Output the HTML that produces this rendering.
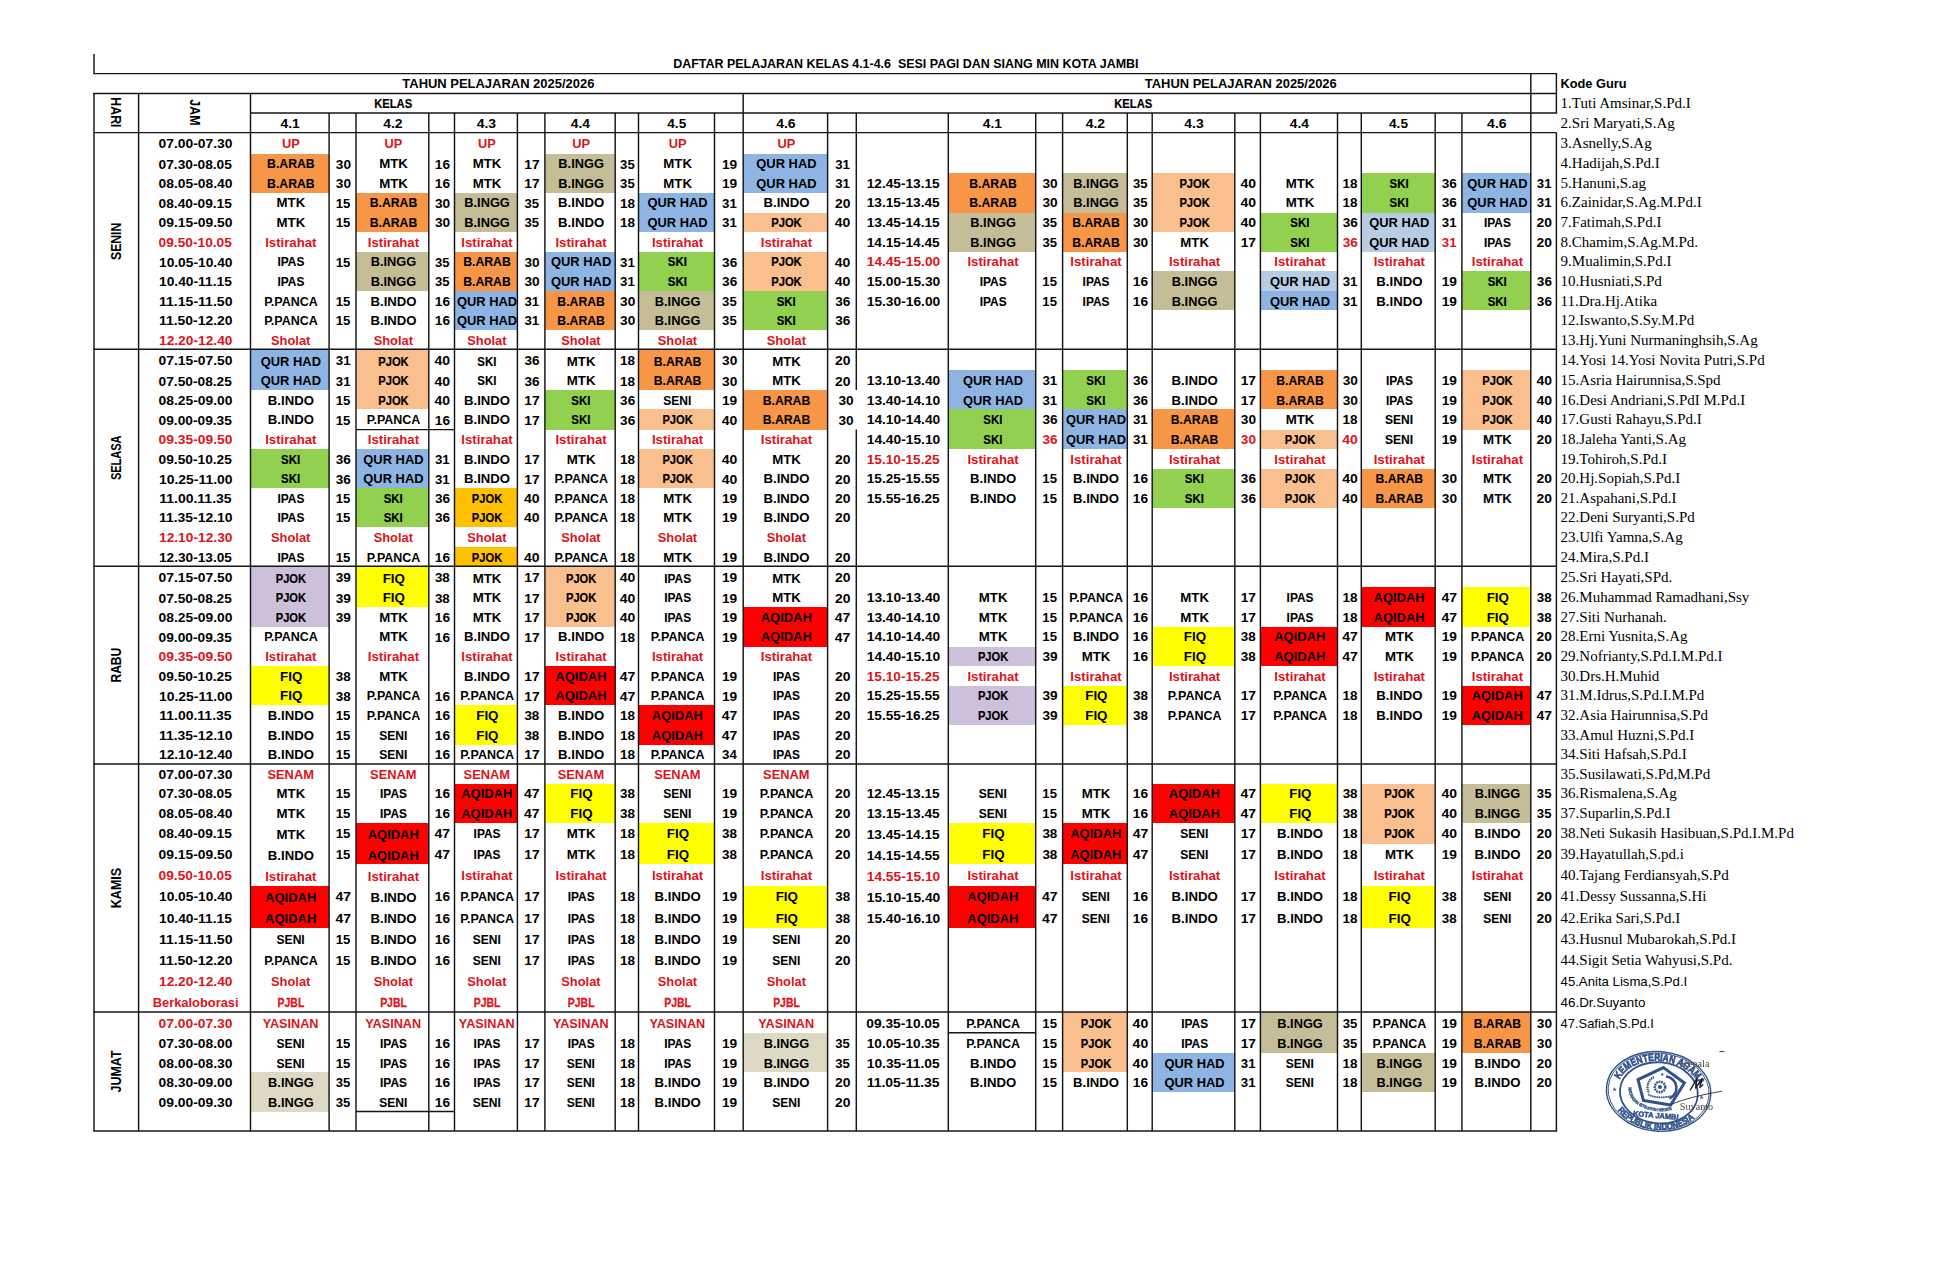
<!DOCTYPE html>
<html><head><meta charset="utf-8"><title>Daftar Pelajaran Kelas 4.1-4.6</title>
<style>
html,body{margin:0;padding:0;background:#fff}
body{width:1949px;height:1270px;overflow:hidden}
svg{display:block}
</style></head><body>
<svg width="1949" height="1270" viewBox="0 0 1949 1270">
<rect width="1949" height="1270" fill="#fff"/>
<g shape-rendering="crispEdges">
<rect x="250.5" y="153.9" width="78.6" height="19.54" fill="#F79646"/>
<rect x="544.9" y="153.9" width="70.3" height="19.54" fill="#C4BD97"/>
<rect x="743.2" y="153.9" width="84.4" height="19.54" fill="#8DB4E2"/>
<rect x="250.5" y="173.44" width="78.6" height="19.55" fill="#F79646"/>
<rect x="544.9" y="173.44" width="70.3" height="19.55" fill="#C4BD97"/>
<rect x="743.2" y="173.44" width="84.4" height="19.55" fill="#8DB4E2"/>
<rect x="948.3" y="173.44" width="87.4" height="19.55" fill="#F79646"/>
<rect x="1062.6" y="173.44" width="64.7" height="19.55" fill="#C4BD97"/>
<rect x="1152.2" y="173.44" width="82.6" height="19.55" fill="#FABF8F"/>
<rect x="1361.3" y="173.44" width="73.9" height="19.55" fill="#92D050"/>
<rect x="1461.9" y="173.44" width="68.9" height="19.55" fill="#8DB4E2"/>
<rect x="356" y="192.99" width="72.8" height="19.55" fill="#F79646"/>
<rect x="454.5" y="192.99" width="62.9" height="19.55" fill="#C4BD97"/>
<rect x="638.5" y="192.99" width="76" height="19.55" fill="#8DB4E2"/>
<rect x="948.3" y="192.99" width="87.4" height="19.55" fill="#F79646"/>
<rect x="1062.6" y="192.99" width="64.7" height="19.55" fill="#C4BD97"/>
<rect x="1152.2" y="192.99" width="82.6" height="19.55" fill="#FABF8F"/>
<rect x="1361.3" y="192.99" width="73.9" height="19.55" fill="#92D050"/>
<rect x="1461.9" y="192.99" width="68.9" height="19.55" fill="#8DB4E2"/>
<rect x="356" y="212.54" width="72.8" height="19.54" fill="#F79646"/>
<rect x="454.5" y="212.54" width="62.9" height="19.54" fill="#C4BD97"/>
<rect x="638.5" y="212.54" width="76" height="19.54" fill="#8DB4E2"/>
<rect x="743.2" y="212.54" width="84.4" height="19.54" fill="#FABF8F"/>
<rect x="948.3" y="212.54" width="87.4" height="19.54" fill="#C4BD97"/>
<rect x="1062.6" y="212.54" width="64.7" height="19.54" fill="#F79646"/>
<rect x="1152.2" y="212.54" width="82.6" height="19.54" fill="#FABF8F"/>
<rect x="1260.4" y="212.54" width="77.1" height="19.54" fill="#92D050"/>
<rect x="1361.3" y="212.54" width="73.9" height="19.54" fill="#B8CCE4"/>
<rect x="948.3" y="232.08" width="87.4" height="19.54" fill="#C4BD97"/>
<rect x="1062.6" y="232.08" width="64.7" height="19.54" fill="#F79646"/>
<rect x="1260.4" y="232.08" width="77.1" height="19.54" fill="#92D050"/>
<rect x="1361.3" y="232.08" width="73.9" height="19.54" fill="#B8CCE4"/>
<rect x="356" y="251.62" width="72.8" height="19.55" fill="#C4BD97"/>
<rect x="454.5" y="251.62" width="62.9" height="19.55" fill="#F79646"/>
<rect x="544.9" y="251.62" width="70.3" height="19.55" fill="#8DB4E2"/>
<rect x="638.5" y="251.62" width="76" height="19.55" fill="#92D050"/>
<rect x="743.2" y="251.62" width="84.4" height="19.55" fill="#FABF8F"/>
<rect x="356" y="271.17" width="72.8" height="19.55" fill="#C4BD97"/>
<rect x="454.5" y="271.17" width="62.9" height="19.55" fill="#F79646"/>
<rect x="544.9" y="271.17" width="70.3" height="19.55" fill="#8DB4E2"/>
<rect x="638.5" y="271.17" width="76" height="19.55" fill="#92D050"/>
<rect x="743.2" y="271.17" width="84.4" height="19.55" fill="#FABF8F"/>
<rect x="1152.2" y="271.17" width="82.6" height="19.55" fill="#C4BD97"/>
<rect x="1260.4" y="271.17" width="77.1" height="19.55" fill="#B8CCE4"/>
<rect x="1461.9" y="271.17" width="68.9" height="19.55" fill="#92D050"/>
<rect x="454.5" y="290.72" width="62.9" height="19.54" fill="#8DB4E2"/>
<rect x="544.9" y="290.72" width="70.3" height="19.54" fill="#F79646"/>
<rect x="638.5" y="290.72" width="76" height="19.54" fill="#C4BD97"/>
<rect x="743.2" y="290.72" width="84.4" height="19.54" fill="#92D050"/>
<rect x="1152.2" y="290.72" width="82.6" height="19.54" fill="#C4BD97"/>
<rect x="1260.4" y="290.72" width="77.1" height="19.54" fill="#8DB4E2"/>
<rect x="1461.9" y="290.72" width="68.9" height="19.54" fill="#92D050"/>
<rect x="454.5" y="310.26" width="62.9" height="19.55" fill="#8DB4E2"/>
<rect x="544.9" y="310.26" width="70.3" height="19.55" fill="#F79646"/>
<rect x="638.5" y="310.26" width="76" height="19.55" fill="#C4BD97"/>
<rect x="743.2" y="310.26" width="84.4" height="19.55" fill="#92D050"/>
<rect x="250.5" y="349.3" width="78.6" height="20.9" fill="#8DB4E2"/>
<rect x="356" y="349.3" width="72.8" height="20.9" fill="#FABF8F"/>
<rect x="638.5" y="349.3" width="76" height="20.9" fill="#F79646"/>
<rect x="250.5" y="370.2" width="78.6" height="19.8" fill="#8DB4E2"/>
<rect x="356" y="370.2" width="72.8" height="19.8" fill="#FABF8F"/>
<rect x="638.5" y="370.2" width="76" height="19.8" fill="#F79646"/>
<rect x="948.3" y="370.2" width="87.4" height="19.8" fill="#8DB4E2"/>
<rect x="1062.6" y="370.2" width="64.7" height="19.8" fill="#92D050"/>
<rect x="1260.4" y="370.2" width="77.1" height="19.8" fill="#F79646"/>
<rect x="1461.9" y="370.2" width="68.9" height="19.8" fill="#FABF8F"/>
<rect x="356" y="390" width="72.8" height="19.4" fill="#FABF8F"/>
<rect x="544.9" y="390" width="70.3" height="19.4" fill="#92D050"/>
<rect x="743.2" y="390" width="84.4" height="19.4" fill="#F79646"/>
<rect x="948.3" y="390" width="87.4" height="19.4" fill="#8DB4E2"/>
<rect x="1062.6" y="390" width="64.7" height="19.4" fill="#92D050"/>
<rect x="1260.4" y="390" width="77.1" height="19.4" fill="#F79646"/>
<rect x="1461.9" y="390" width="68.9" height="19.4" fill="#FABF8F"/>
<rect x="544.9" y="409.4" width="70.3" height="20.2" fill="#92D050"/>
<rect x="638.5" y="409.4" width="76" height="20.2" fill="#FABF8F"/>
<rect x="743.2" y="409.4" width="84.4" height="20.2" fill="#F79646"/>
<rect x="948.3" y="409.4" width="87.4" height="20.2" fill="#92D050"/>
<rect x="1062.6" y="409.4" width="64.7" height="20.2" fill="#8DB4E2"/>
<rect x="1152.2" y="409.4" width="82.6" height="20.2" fill="#F79646"/>
<rect x="1461.9" y="409.4" width="68.9" height="20.2" fill="#FABF8F"/>
<rect x="948.3" y="429.6" width="87.4" height="19.4" fill="#92D050"/>
<rect x="1062.6" y="429.6" width="64.7" height="19.4" fill="#8DB4E2"/>
<rect x="1152.2" y="429.6" width="82.6" height="19.4" fill="#F79646"/>
<rect x="1260.4" y="429.6" width="77.1" height="19.4" fill="#FABF8F"/>
<rect x="250.5" y="449" width="78.6" height="19.5" fill="#92D050"/>
<rect x="356" y="449" width="72.8" height="19.5" fill="#8DB4E2"/>
<rect x="638.5" y="449" width="76" height="19.5" fill="#FABF8F"/>
<rect x="250.5" y="468.5" width="78.6" height="19.5" fill="#92D050"/>
<rect x="356" y="468.5" width="72.8" height="19.5" fill="#8DB4E2"/>
<rect x="638.5" y="468.5" width="76" height="19.5" fill="#FABF8F"/>
<rect x="1152.2" y="468.5" width="82.6" height="19.5" fill="#92D050"/>
<rect x="1260.4" y="468.5" width="77.1" height="19.5" fill="#FABF8F"/>
<rect x="1361.3" y="468.5" width="73.9" height="19.5" fill="#F79646"/>
<rect x="356" y="488" width="72.8" height="19.5" fill="#92D050"/>
<rect x="454.5" y="488" width="62.9" height="19.5" fill="#FFC000"/>
<rect x="1152.2" y="488" width="82.6" height="19.5" fill="#92D050"/>
<rect x="1260.4" y="488" width="77.1" height="19.5" fill="#FABF8F"/>
<rect x="1361.3" y="488" width="73.9" height="19.5" fill="#F79646"/>
<rect x="356" y="507.5" width="72.8" height="19.6" fill="#92D050"/>
<rect x="454.5" y="507.5" width="62.9" height="19.6" fill="#FFC000"/>
<rect x="454.5" y="546.7" width="62.9" height="19.6" fill="#FFC000"/>
<rect x="250.5" y="566.3" width="78.6" height="21" fill="#CCC0DA"/>
<rect x="356" y="566.3" width="72.8" height="21" fill="#FFFF00"/>
<rect x="544.9" y="566.3" width="70.3" height="21" fill="#FABF8F"/>
<rect x="250.5" y="587.3" width="78.6" height="19.7" fill="#CCC0DA"/>
<rect x="356" y="587.3" width="72.8" height="19.7" fill="#FFFF00"/>
<rect x="544.9" y="587.3" width="70.3" height="19.7" fill="#FABF8F"/>
<rect x="1361.3" y="587.3" width="73.9" height="19.7" fill="#FF0000"/>
<rect x="1461.9" y="587.3" width="68.9" height="19.7" fill="#FFFF00"/>
<rect x="250.5" y="607" width="78.6" height="19.7" fill="#CCC0DA"/>
<rect x="544.9" y="607" width="70.3" height="19.7" fill="#FABF8F"/>
<rect x="743.2" y="607" width="84.4" height="19.7" fill="#FF0000"/>
<rect x="1361.3" y="607" width="73.9" height="19.7" fill="#FF0000"/>
<rect x="1461.9" y="607" width="68.9" height="19.7" fill="#FFFF00"/>
<rect x="743.2" y="626.7" width="84.4" height="19.8" fill="#FF0000"/>
<rect x="1152.2" y="626.7" width="82.6" height="19.8" fill="#FFFF00"/>
<rect x="1260.4" y="626.7" width="77.1" height="19.8" fill="#FF0000"/>
<rect x="948.3" y="646.5" width="87.4" height="19.4" fill="#CCC0DA"/>
<rect x="1152.2" y="646.5" width="82.6" height="19.4" fill="#FFFF00"/>
<rect x="1260.4" y="646.5" width="77.1" height="19.4" fill="#FF0000"/>
<rect x="250.5" y="665.9" width="78.6" height="19.7" fill="#FFFF00"/>
<rect x="544.9" y="665.9" width="70.3" height="19.7" fill="#FF0000"/>
<rect x="250.5" y="685.6" width="78.6" height="19.7" fill="#FFFF00"/>
<rect x="544.9" y="685.6" width="70.3" height="19.7" fill="#FF0000"/>
<rect x="948.3" y="685.6" width="87.4" height="19.7" fill="#CCC0DA"/>
<rect x="1062.6" y="685.6" width="64.7" height="19.7" fill="#FFFF00"/>
<rect x="1461.9" y="685.6" width="68.9" height="19.7" fill="#FF0000"/>
<rect x="454.5" y="705.3" width="62.9" height="19.7" fill="#FFFF00"/>
<rect x="638.5" y="705.3" width="76" height="19.7" fill="#FF0000"/>
<rect x="948.3" y="705.3" width="87.4" height="19.7" fill="#CCC0DA"/>
<rect x="1062.6" y="705.3" width="64.7" height="19.7" fill="#FFFF00"/>
<rect x="1461.9" y="705.3" width="68.9" height="19.7" fill="#FF0000"/>
<rect x="454.5" y="725" width="62.9" height="19.6" fill="#FFFF00"/>
<rect x="638.5" y="725" width="76" height="19.6" fill="#FF0000"/>
<rect x="454.5" y="784" width="62.9" height="19.5" fill="#FF0000"/>
<rect x="544.9" y="784" width="70.3" height="19.5" fill="#FFFF00"/>
<rect x="1152.2" y="784" width="82.6" height="19.5" fill="#FF0000"/>
<rect x="1260.4" y="784" width="77.1" height="19.5" fill="#FFFF00"/>
<rect x="1361.3" y="784" width="73.9" height="19.5" fill="#FABF8F"/>
<rect x="1461.9" y="784" width="68.9" height="19.5" fill="#C4BD97"/>
<rect x="454.5" y="803.5" width="62.9" height="19.7" fill="#FF0000"/>
<rect x="544.9" y="803.5" width="70.3" height="19.7" fill="#FFFF00"/>
<rect x="1152.2" y="803.5" width="82.6" height="19.7" fill="#FF0000"/>
<rect x="1260.4" y="803.5" width="77.1" height="19.7" fill="#FFFF00"/>
<rect x="1361.3" y="803.5" width="73.9" height="19.7" fill="#FABF8F"/>
<rect x="1461.9" y="803.5" width="68.9" height="19.7" fill="#C4BD97"/>
<rect x="356" y="823.2" width="72.8" height="20.5" fill="#FF0000"/>
<rect x="638.5" y="823.2" width="76" height="20.5" fill="#FFFF00"/>
<rect x="948.3" y="823.2" width="87.4" height="20.5" fill="#FFFF00"/>
<rect x="1062.6" y="823.2" width="64.7" height="20.5" fill="#FF0000"/>
<rect x="1361.3" y="823.2" width="73.9" height="20.5" fill="#FABF8F"/>
<rect x="356" y="843.7" width="72.8" height="20.6" fill="#FF0000"/>
<rect x="638.5" y="843.7" width="76" height="20.6" fill="#FFFF00"/>
<rect x="948.3" y="843.7" width="87.4" height="20.6" fill="#FFFF00"/>
<rect x="1062.6" y="843.7" width="64.7" height="20.6" fill="#FF0000"/>
<rect x="250.5" y="885.8" width="78.6" height="21" fill="#FF0000"/>
<rect x="743.2" y="885.8" width="84.4" height="21" fill="#FFFF00"/>
<rect x="948.3" y="885.8" width="87.4" height="21" fill="#FF0000"/>
<rect x="1361.3" y="885.8" width="73.9" height="21" fill="#FFFF00"/>
<rect x="250.5" y="906.8" width="78.6" height="20.9" fill="#FF0000"/>
<rect x="743.2" y="906.8" width="84.4" height="20.9" fill="#FFFF00"/>
<rect x="948.3" y="906.8" width="87.4" height="20.9" fill="#FF0000"/>
<rect x="1361.3" y="906.8" width="73.9" height="20.9" fill="#FFFF00"/>
<rect x="1062.6" y="1012" width="64.7" height="20.8" fill="#FABF8F"/>
<rect x="1260.4" y="1012" width="77.1" height="20.8" fill="#C4BD97"/>
<rect x="1461.9" y="1012" width="68.9" height="20.8" fill="#F79646"/>
<rect x="743.2" y="1032.8" width="84.4" height="19.8" fill="#DDD9C4"/>
<rect x="1062.6" y="1032.8" width="64.7" height="19.8" fill="#FABF8F"/>
<rect x="1260.4" y="1032.8" width="77.1" height="19.8" fill="#C4BD97"/>
<rect x="1461.9" y="1032.8" width="68.9" height="19.8" fill="#F79646"/>
<rect x="743.2" y="1052.6" width="84.4" height="19.7" fill="#DDD9C4"/>
<rect x="1062.6" y="1052.6" width="64.7" height="19.7" fill="#FABF8F"/>
<rect x="1152.2" y="1052.6" width="82.6" height="19.7" fill="#8DB4E2"/>
<rect x="1361.3" y="1052.6" width="73.9" height="19.7" fill="#C4BD97"/>
<rect x="250.5" y="1072.3" width="78.6" height="19.6" fill="#DDD9C4"/>
<rect x="1152.2" y="1072.3" width="82.6" height="19.6" fill="#8DB4E2"/>
<rect x="1361.3" y="1072.3" width="73.9" height="19.6" fill="#C4BD97"/>
<rect x="250.5" y="1091.9" width="78.6" height="19.6" fill="#DDD9C4"/>
</g>
<g stroke="#151515" stroke-width="1.45" fill="none">
<path d="M356 429.6L454.5 429.6"/>
<path d="M948.3 1032.8L1035.7 1032.8"/>
<path d="M356 1111.5L454.5 1111.5"/>
<path d="M94 54L94 73.6"/>
<path d="M93.28 73.6L1557.12 73.6"/>
<path d="M93.28 93.5L1557.12 93.5"/>
<path d="M250.5 113L1557.12 113"/>
<path d="M93.28 132.6L1556.4 132.6"/>
<path d="M1530.8 73.6L1530.8 93.5"/>
<path d="M1556.4 73.6L1556.4 113"/>
<path d="M94 93.5L94 113"/>
<path d="M138.6 93.5L138.6 113"/>
<path d="M250.5 93.5L250.5 113"/>
<path d="M743.2 93.5L743.2 113"/>
<path d="M1530.8 93.5L1530.8 113"/>
<path d="M94 113L94 132.6"/>
<path d="M138.6 113L138.6 132.6"/>
<path d="M250.5 113L250.5 132.6"/>
<path d="M329.1 113L329.1 132.6"/>
<path d="M356 113L356 132.6"/>
<path d="M428.8 113L428.8 132.6"/>
<path d="M454.5 113L454.5 132.6"/>
<path d="M517.4 113L517.4 132.6"/>
<path d="M544.9 113L544.9 132.6"/>
<path d="M615.2 113L615.2 132.6"/>
<path d="M638.5 113L638.5 132.6"/>
<path d="M714.5 113L714.5 132.6"/>
<path d="M743.2 113L743.2 132.6"/>
<path d="M827.6 113L827.6 132.6"/>
<path d="M856.3 113L856.3 132.6"/>
<path d="M948.3 113L948.3 132.6"/>
<path d="M1035.7 113L1035.7 132.6"/>
<path d="M1062.6 113L1062.6 132.6"/>
<path d="M1127.3 113L1127.3 132.6"/>
<path d="M1152.2 113L1152.2 132.6"/>
<path d="M1234.8 113L1234.8 132.6"/>
<path d="M1260.4 113L1260.4 132.6"/>
<path d="M1337.5 113L1337.5 132.6"/>
<path d="M1361.3 113L1361.3 132.6"/>
<path d="M1435.2 113L1435.2 132.6"/>
<path d="M1461.9 113L1461.9 132.6"/>
<path d="M1530.8 113L1530.8 132.6"/>
<path d="M94 132.6L94 1131"/>
<path d="M138.6 132.6L138.6 1131"/>
<path d="M250.5 132.6L250.5 1131"/>
<path d="M329.1 132.6L329.1 1131"/>
<path d="M356 132.6L356 1131"/>
<path d="M428.8 132.6L428.8 1131"/>
<path d="M454.5 132.6L454.5 1131"/>
<path d="M517.4 132.6L517.4 1131"/>
<path d="M544.9 132.6L544.9 1131"/>
<path d="M615.2 132.6L615.2 1131"/>
<path d="M638.5 132.6L638.5 1131"/>
<path d="M714.5 132.6L714.5 1131"/>
<path d="M743.2 132.6L743.2 1131"/>
<path d="M827.6 132.6L827.6 1131"/>
<path d="M856.3 132.6L856.3 390"/>
<path d="M856.3 429.6L856.3 1131"/>
<path d="M948.3 132.6L948.3 1131"/>
<path d="M1035.7 132.6L1035.7 1131"/>
<path d="M1062.6 132.6L1062.6 1131"/>
<path d="M1127.3 132.6L1127.3 1131"/>
<path d="M1152.2 132.6L1152.2 1131"/>
<path d="M1234.8 132.6L1234.8 1131"/>
<path d="M1260.4 132.6L1260.4 1131"/>
<path d="M1337.5 132.6L1337.5 1131"/>
<path d="M1361.3 132.6L1361.3 1131"/>
<path d="M1435.2 132.6L1435.2 1131"/>
<path d="M1461.9 132.6L1461.9 1131"/>
<path d="M1530.8 132.6L1530.8 1131"/>
<path d="M1556.4 132.6L1556.4 1131"/>
<path d="M93.28 349.3L1557.12 349.3"/>
<path d="M93.28 566.3L1557.12 566.3"/>
<path d="M93.28 764L1557.12 764"/>
<path d="M93.28 1012L1557.12 1012"/>
<path d="M93.28 1131L1557.12 1131"/>
</g>
<g font-family="'Liberation Sans',Arial,sans-serif" font-weight="bold" font-size="12.9" fill="#000" text-anchor="middle" lengthAdjust="spacingAndGlyphs">
<text lengthAdjust="spacingAndGlyphs" x="195.56" y="148" textLength="73.92">07.00-07.30</text>
<text lengthAdjust="spacingAndGlyphs" x="290.85" y="148" textLength="17.8" fill="#DE1219">UP</text>
<text lengthAdjust="spacingAndGlyphs" x="393.45" y="148" textLength="17.8" fill="#DE1219">UP</text>
<text lengthAdjust="spacingAndGlyphs" x="487" y="148" textLength="17.8" fill="#DE1219">UP</text>
<text lengthAdjust="spacingAndGlyphs" x="581.1" y="148" textLength="17.8" fill="#DE1219">UP</text>
<text lengthAdjust="spacingAndGlyphs" x="677.55" y="148" textLength="17.8" fill="#DE1219">UP</text>
<text lengthAdjust="spacingAndGlyphs" x="786.45" y="148" textLength="17.8" fill="#DE1219">UP</text>
<text lengthAdjust="spacingAndGlyphs" x="195.24" y="168.6" textLength="73.28">07.30-08.05</text>
<text lengthAdjust="spacingAndGlyphs" x="290.86" y="168" textLength="47.55" stroke="#000" stroke-width="0.06">B.ARAB</text>
<text lengthAdjust="spacingAndGlyphs" x="343.41" y="168.6" textLength="15.21">30</text>
<text lengthAdjust="spacingAndGlyphs" x="393.51" y="168" textLength="28.7">MTK</text>
<text lengthAdjust="spacingAndGlyphs" x="442.4" y="168.6" textLength="15.22">16</text>
<text lengthAdjust="spacingAndGlyphs" x="487.06" y="168" textLength="28.7">MTK</text>
<text lengthAdjust="spacingAndGlyphs" x="531.92" y="168.6" textLength="15.28">17</text>
<text lengthAdjust="spacingAndGlyphs" x="581.14" y="168" textLength="45.54">B.INGG</text>
<text lengthAdjust="spacingAndGlyphs" x="627.39" y="168.6" textLength="14.55">35</text>
<text lengthAdjust="spacingAndGlyphs" x="677.61" y="168" textLength="28.7">MTK</text>
<text lengthAdjust="spacingAndGlyphs" x="729.61" y="168.6" textLength="15.25">19</text>
<text lengthAdjust="spacingAndGlyphs" x="786.45" y="168" textLength="60.24">QUR HAD</text>
<text lengthAdjust="spacingAndGlyphs" x="842.59" y="168.6" textLength="14.75">31</text>
<text lengthAdjust="spacingAndGlyphs" x="195.56" y="188" textLength="73.92">08.05-08.40</text>
<text lengthAdjust="spacingAndGlyphs" x="290.86" y="188" textLength="47.55" stroke="#000" stroke-width="0.06">B.ARAB</text>
<text lengthAdjust="spacingAndGlyphs" x="343.41" y="188" textLength="15.21">30</text>
<text lengthAdjust="spacingAndGlyphs" x="393.51" y="188" textLength="28.7">MTK</text>
<text lengthAdjust="spacingAndGlyphs" x="442.4" y="188" textLength="15.22">16</text>
<text lengthAdjust="spacingAndGlyphs" x="487.06" y="188" textLength="28.7">MTK</text>
<text lengthAdjust="spacingAndGlyphs" x="531.92" y="188" textLength="15.28">17</text>
<text lengthAdjust="spacingAndGlyphs" x="581.14" y="188" textLength="45.54">B.INGG</text>
<text lengthAdjust="spacingAndGlyphs" x="627.39" y="188" textLength="14.55">35</text>
<text lengthAdjust="spacingAndGlyphs" x="677.61" y="188" textLength="28.7">MTK</text>
<text lengthAdjust="spacingAndGlyphs" x="729.61" y="188" textLength="15.25">19</text>
<text lengthAdjust="spacingAndGlyphs" x="786.45" y="188" textLength="60.24">QUR HAD</text>
<text lengthAdjust="spacingAndGlyphs" x="842.59" y="188" textLength="14.75">31</text>
<text lengthAdjust="spacingAndGlyphs" x="903.18" y="188" textLength="72.9">12.45-13.15</text>
<text lengthAdjust="spacingAndGlyphs" x="993.06" y="188" textLength="47.55" stroke="#000" stroke-width="0.06">B.ARAB</text>
<text lengthAdjust="spacingAndGlyphs" x="1050.01" y="188" textLength="15.21">30</text>
<text lengthAdjust="spacingAndGlyphs" x="1096.04" y="188" textLength="45.54">B.INGG</text>
<text lengthAdjust="spacingAndGlyphs" x="1140.29" y="188" textLength="14.55">35</text>
<text lengthAdjust="spacingAndGlyphs" x="1194.59" y="188" textLength="30.37" stroke="#000" stroke-width="0.21">PJOK</text>
<text lengthAdjust="spacingAndGlyphs" x="1248.28" y="188" textLength="15.58">40</text>
<text lengthAdjust="spacingAndGlyphs" x="1300.06" y="188" textLength="28.7">MTK</text>
<text lengthAdjust="spacingAndGlyphs" x="1350.07" y="188" textLength="15.03">18</text>
<text lengthAdjust="spacingAndGlyphs" x="1399.1" y="188" textLength="19.09" stroke="#000" stroke-width="0.17">SKI</text>
<text lengthAdjust="spacingAndGlyphs" x="1449.36" y="188" textLength="15.1">36</text>
<text lengthAdjust="spacingAndGlyphs" x="1497.4" y="188" textLength="60.24">QUR HAD</text>
<text lengthAdjust="spacingAndGlyphs" x="1544.24" y="188" textLength="14.75">31</text>
<text lengthAdjust="spacingAndGlyphs" x="195.24" y="208" textLength="73.28">08.40-09.15</text>
<text lengthAdjust="spacingAndGlyphs" x="290.91" y="207" textLength="28.7">MTK</text>
<text lengthAdjust="spacingAndGlyphs" x="343.04" y="208" textLength="14.65">15</text>
<text lengthAdjust="spacingAndGlyphs" x="393.46" y="207" textLength="47.55" stroke="#000" stroke-width="0.06">B.ARAB</text>
<text lengthAdjust="spacingAndGlyphs" x="442.51" y="208" textLength="15.21">30</text>
<text lengthAdjust="spacingAndGlyphs" x="487.04" y="207" textLength="45.54">B.INGG</text>
<text lengthAdjust="spacingAndGlyphs" x="531.69" y="208" textLength="14.55">35</text>
<text lengthAdjust="spacingAndGlyphs" x="581.16" y="207" textLength="46.11">B.INDO</text>
<text lengthAdjust="spacingAndGlyphs" x="627.52" y="208" textLength="15.03">18</text>
<text lengthAdjust="spacingAndGlyphs" x="677.55" y="207" textLength="60.24">QUR HAD</text>
<text lengthAdjust="spacingAndGlyphs" x="729.49" y="208" textLength="14.75">31</text>
<text lengthAdjust="spacingAndGlyphs" x="786.51" y="207" textLength="46.11">B.INDO</text>
<text lengthAdjust="spacingAndGlyphs" x="842.69" y="208" textLength="15.45">20</text>
<text lengthAdjust="spacingAndGlyphs" x="903.18" y="207" textLength="72.9">13.15-13.45</text>
<text lengthAdjust="spacingAndGlyphs" x="993.06" y="207" textLength="47.55" stroke="#000" stroke-width="0.06">B.ARAB</text>
<text lengthAdjust="spacingAndGlyphs" x="1050.01" y="207" textLength="15.21">30</text>
<text lengthAdjust="spacingAndGlyphs" x="1096.04" y="207" textLength="45.54">B.INGG</text>
<text lengthAdjust="spacingAndGlyphs" x="1140.29" y="207" textLength="14.55">35</text>
<text lengthAdjust="spacingAndGlyphs" x="1194.59" y="207" textLength="30.37" stroke="#000" stroke-width="0.21">PJOK</text>
<text lengthAdjust="spacingAndGlyphs" x="1248.28" y="207" textLength="15.58">40</text>
<text lengthAdjust="spacingAndGlyphs" x="1300.06" y="207" textLength="28.7">MTK</text>
<text lengthAdjust="spacingAndGlyphs" x="1350.07" y="207" textLength="15.03">18</text>
<text lengthAdjust="spacingAndGlyphs" x="1399.1" y="207" textLength="19.09" stroke="#000" stroke-width="0.17">SKI</text>
<text lengthAdjust="spacingAndGlyphs" x="1449.36" y="207" textLength="15.1">36</text>
<text lengthAdjust="spacingAndGlyphs" x="1497.4" y="207" textLength="60.24">QUR HAD</text>
<text lengthAdjust="spacingAndGlyphs" x="1544.24" y="207" textLength="14.75">31</text>
<text lengthAdjust="spacingAndGlyphs" x="195.56" y="227" textLength="73.92">09.15-09.50</text>
<text lengthAdjust="spacingAndGlyphs" x="290.91" y="227" textLength="28.7">MTK</text>
<text lengthAdjust="spacingAndGlyphs" x="343.04" y="227" textLength="14.65">15</text>
<text lengthAdjust="spacingAndGlyphs" x="393.46" y="227" textLength="47.55" stroke="#000" stroke-width="0.06">B.ARAB</text>
<text lengthAdjust="spacingAndGlyphs" x="442.51" y="227" textLength="15.21">30</text>
<text lengthAdjust="spacingAndGlyphs" x="487.04" y="227" textLength="45.54">B.INGG</text>
<text lengthAdjust="spacingAndGlyphs" x="531.69" y="227" textLength="14.55">35</text>
<text lengthAdjust="spacingAndGlyphs" x="581.16" y="227" textLength="46.11">B.INDO</text>
<text lengthAdjust="spacingAndGlyphs" x="627.52" y="227" textLength="15.03">18</text>
<text lengthAdjust="spacingAndGlyphs" x="677.55" y="227" textLength="60.24">QUR HAD</text>
<text lengthAdjust="spacingAndGlyphs" x="729.49" y="227" textLength="14.75">31</text>
<text lengthAdjust="spacingAndGlyphs" x="786.49" y="227" textLength="30.37" stroke="#000" stroke-width="0.21">PJOK</text>
<text lengthAdjust="spacingAndGlyphs" x="842.63" y="227" textLength="15.58">40</text>
<text lengthAdjust="spacingAndGlyphs" x="903.18" y="227" textLength="72.9">13.45-14.15</text>
<text lengthAdjust="spacingAndGlyphs" x="993.09" y="227" textLength="45.54">B.INGG</text>
<text lengthAdjust="spacingAndGlyphs" x="1049.69" y="227" textLength="14.55">35</text>
<text lengthAdjust="spacingAndGlyphs" x="1096.01" y="227" textLength="47.55" stroke="#000" stroke-width="0.06">B.ARAB</text>
<text lengthAdjust="spacingAndGlyphs" x="1140.61" y="227" textLength="15.21">30</text>
<text lengthAdjust="spacingAndGlyphs" x="1194.59" y="227" textLength="30.37" stroke="#000" stroke-width="0.21">PJOK</text>
<text lengthAdjust="spacingAndGlyphs" x="1248.28" y="227" textLength="15.58">40</text>
<text lengthAdjust="spacingAndGlyphs" x="1299.8" y="227" textLength="19.09" stroke="#000" stroke-width="0.17">SKI</text>
<text lengthAdjust="spacingAndGlyphs" x="1350.21" y="227" textLength="15.1">36</text>
<text lengthAdjust="spacingAndGlyphs" x="1399.3" y="227" textLength="60.24">QUR HAD</text>
<text lengthAdjust="spacingAndGlyphs" x="1449.19" y="227" textLength="14.75">31</text>
<text lengthAdjust="spacingAndGlyphs" x="1497.48" y="227" textLength="26.93" stroke="#000" stroke-width="0.11">IPAS</text>
<text lengthAdjust="spacingAndGlyphs" x="1544.34" y="227" textLength="15.45">20</text>
<text lengthAdjust="spacingAndGlyphs" x="195.24" y="247" textLength="73.28" fill="#DE1219">09.50-10.05</text>
<text lengthAdjust="spacingAndGlyphs" x="290.85" y="247" textLength="51.31" fill="#DE1219">Istirahat</text>
<text lengthAdjust="spacingAndGlyphs" x="393.45" y="247" textLength="51.31" fill="#DE1219">Istirahat</text>
<text lengthAdjust="spacingAndGlyphs" x="487" y="247" textLength="51.31" fill="#DE1219">Istirahat</text>
<text lengthAdjust="spacingAndGlyphs" x="581.1" y="247" textLength="51.31" fill="#DE1219">Istirahat</text>
<text lengthAdjust="spacingAndGlyphs" x="677.55" y="247" textLength="51.31" fill="#DE1219">Istirahat</text>
<text lengthAdjust="spacingAndGlyphs" x="786.45" y="247" textLength="51.31" fill="#DE1219">Istirahat</text>
<text lengthAdjust="spacingAndGlyphs" x="903.18" y="247" textLength="72.9">14.15-14.45</text>
<text lengthAdjust="spacingAndGlyphs" x="993.09" y="247" textLength="45.54">B.INGG</text>
<text lengthAdjust="spacingAndGlyphs" x="1049.69" y="247" textLength="14.55">35</text>
<text lengthAdjust="spacingAndGlyphs" x="1096.01" y="247" textLength="47.55" stroke="#000" stroke-width="0.06">B.ARAB</text>
<text lengthAdjust="spacingAndGlyphs" x="1140.61" y="247" textLength="15.21">30</text>
<text lengthAdjust="spacingAndGlyphs" x="1194.61" y="247" textLength="28.7">MTK</text>
<text lengthAdjust="spacingAndGlyphs" x="1248.37" y="247" textLength="15.28">17</text>
<text lengthAdjust="spacingAndGlyphs" x="1299.8" y="247" textLength="19.09" stroke="#000" stroke-width="0.17">SKI</text>
<text lengthAdjust="spacingAndGlyphs" x="1350.21" y="247" textLength="15.1" fill="#DE1219">36</text>
<text lengthAdjust="spacingAndGlyphs" x="1399.3" y="247" textLength="60.24">QUR HAD</text>
<text lengthAdjust="spacingAndGlyphs" x="1449.19" y="247" textLength="14.75" fill="#DE1219">31</text>
<text lengthAdjust="spacingAndGlyphs" x="1497.48" y="247" textLength="26.93" stroke="#000" stroke-width="0.11">IPAS</text>
<text lengthAdjust="spacingAndGlyphs" x="1544.34" y="247" textLength="15.45">20</text>
<text lengthAdjust="spacingAndGlyphs" x="195.74" y="267" textLength="73.54">10.05-10.40</text>
<text lengthAdjust="spacingAndGlyphs" x="290.93" y="266" textLength="26.93" stroke="#000" stroke-width="0.11">IPAS</text>
<text lengthAdjust="spacingAndGlyphs" x="343.04" y="267" textLength="14.65">15</text>
<text lengthAdjust="spacingAndGlyphs" x="393.49" y="266" textLength="45.54">B.INGG</text>
<text lengthAdjust="spacingAndGlyphs" x="442.19" y="267" textLength="14.55">35</text>
<text lengthAdjust="spacingAndGlyphs" x="487.01" y="266" textLength="47.55" stroke="#000" stroke-width="0.06">B.ARAB</text>
<text lengthAdjust="spacingAndGlyphs" x="532.01" y="267" textLength="15.21">30</text>
<text lengthAdjust="spacingAndGlyphs" x="581.1" y="266" textLength="60.24">QUR HAD</text>
<text lengthAdjust="spacingAndGlyphs" x="627.49" y="267" textLength="14.75">31</text>
<text lengthAdjust="spacingAndGlyphs" x="677.35" y="266" textLength="19.09" stroke="#000" stroke-width="0.17">SKI</text>
<text lengthAdjust="spacingAndGlyphs" x="729.66" y="267" textLength="15.1">36</text>
<text lengthAdjust="spacingAndGlyphs" x="786.49" y="266" textLength="30.37" stroke="#000" stroke-width="0.21">PJOK</text>
<text lengthAdjust="spacingAndGlyphs" x="842.63" y="267" textLength="15.58">40</text>
<text lengthAdjust="spacingAndGlyphs" x="903.49" y="266" textLength="73.54" fill="#DE1219">14.45-15.00</text>
<text lengthAdjust="spacingAndGlyphs" x="993.05" y="266" textLength="51.31" fill="#DE1219">Istirahat</text>
<text lengthAdjust="spacingAndGlyphs" x="1096" y="266" textLength="51.31" fill="#DE1219">Istirahat</text>
<text lengthAdjust="spacingAndGlyphs" x="1194.55" y="266" textLength="51.31" fill="#DE1219">Istirahat</text>
<text lengthAdjust="spacingAndGlyphs" x="1300" y="266" textLength="51.31" fill="#DE1219">Istirahat</text>
<text lengthAdjust="spacingAndGlyphs" x="1399.3" y="266" textLength="51.31" fill="#DE1219">Istirahat</text>
<text lengthAdjust="spacingAndGlyphs" x="1497.4" y="266" textLength="51.31" fill="#DE1219">Istirahat</text>
<text lengthAdjust="spacingAndGlyphs" x="195.43" y="286" textLength="72.91">10.40-11.15</text>
<text lengthAdjust="spacingAndGlyphs" x="290.93" y="286" textLength="26.93" stroke="#000" stroke-width="0.11">IPAS</text>
<text lengthAdjust="spacingAndGlyphs" x="393.49" y="286" textLength="45.54">B.INGG</text>
<text lengthAdjust="spacingAndGlyphs" x="442.19" y="286" textLength="14.55">35</text>
<text lengthAdjust="spacingAndGlyphs" x="487.01" y="286" textLength="47.55" stroke="#000" stroke-width="0.06">B.ARAB</text>
<text lengthAdjust="spacingAndGlyphs" x="532.01" y="286" textLength="15.21">30</text>
<text lengthAdjust="spacingAndGlyphs" x="581.1" y="286" textLength="60.24">QUR HAD</text>
<text lengthAdjust="spacingAndGlyphs" x="627.49" y="286" textLength="14.75">31</text>
<text lengthAdjust="spacingAndGlyphs" x="677.35" y="286" textLength="19.09" stroke="#000" stroke-width="0.17">SKI</text>
<text lengthAdjust="spacingAndGlyphs" x="729.66" y="286" textLength="15.1">36</text>
<text lengthAdjust="spacingAndGlyphs" x="786.49" y="286" textLength="30.37" stroke="#000" stroke-width="0.21">PJOK</text>
<text lengthAdjust="spacingAndGlyphs" x="842.63" y="286" textLength="15.58">40</text>
<text lengthAdjust="spacingAndGlyphs" x="903.49" y="286" textLength="73.54">15.00-15.30</text>
<text lengthAdjust="spacingAndGlyphs" x="993.13" y="286" textLength="26.93" stroke="#000" stroke-width="0.11">IPAS</text>
<text lengthAdjust="spacingAndGlyphs" x="1049.64" y="286" textLength="14.65">15</text>
<text lengthAdjust="spacingAndGlyphs" x="1096.08" y="286" textLength="26.93" stroke="#000" stroke-width="0.11">IPAS</text>
<text lengthAdjust="spacingAndGlyphs" x="1140.5" y="286" textLength="15.22">16</text>
<text lengthAdjust="spacingAndGlyphs" x="1194.59" y="286" textLength="45.54">B.INGG</text>
<text lengthAdjust="spacingAndGlyphs" x="1300" y="286" textLength="60.24">QUR HAD</text>
<text lengthAdjust="spacingAndGlyphs" x="1350.04" y="286" textLength="14.75">31</text>
<text lengthAdjust="spacingAndGlyphs" x="1399.36" y="286" textLength="46.11">B.INDO</text>
<text lengthAdjust="spacingAndGlyphs" x="1449.31" y="286" textLength="15.25">19</text>
<text lengthAdjust="spacingAndGlyphs" x="1497.2" y="286" textLength="19.09" stroke="#000" stroke-width="0.17">SKI</text>
<text lengthAdjust="spacingAndGlyphs" x="1544.41" y="286" textLength="15.1">36</text>
<text lengthAdjust="spacingAndGlyphs" x="195.74" y="306" textLength="73.58">11.15-11.50</text>
<text lengthAdjust="spacingAndGlyphs" x="290.97" y="306" textLength="53.61">P.PANCA</text>
<text lengthAdjust="spacingAndGlyphs" x="343.04" y="306" textLength="14.65">15</text>
<text lengthAdjust="spacingAndGlyphs" x="393.51" y="306" textLength="46.11">B.INDO</text>
<text lengthAdjust="spacingAndGlyphs" x="442.4" y="306" textLength="15.22">16</text>
<text lengthAdjust="spacingAndGlyphs" x="487" y="306" textLength="60.24">QUR HAD</text>
<text lengthAdjust="spacingAndGlyphs" x="531.79" y="306" textLength="14.75">31</text>
<text lengthAdjust="spacingAndGlyphs" x="581.11" y="306" textLength="47.55" stroke="#000" stroke-width="0.06">B.ARAB</text>
<text lengthAdjust="spacingAndGlyphs" x="627.71" y="306" textLength="15.21">30</text>
<text lengthAdjust="spacingAndGlyphs" x="677.59" y="306" textLength="45.54">B.INGG</text>
<text lengthAdjust="spacingAndGlyphs" x="729.39" y="306" textLength="14.55">35</text>
<text lengthAdjust="spacingAndGlyphs" x="786.25" y="306" textLength="19.09" stroke="#000" stroke-width="0.17">SKI</text>
<text lengthAdjust="spacingAndGlyphs" x="842.76" y="306" textLength="15.1">36</text>
<text lengthAdjust="spacingAndGlyphs" x="903.49" y="306" textLength="73.54">15.30-16.00</text>
<text lengthAdjust="spacingAndGlyphs" x="993.13" y="306" textLength="26.93" stroke="#000" stroke-width="0.11">IPAS</text>
<text lengthAdjust="spacingAndGlyphs" x="1049.64" y="306" textLength="14.65">15</text>
<text lengthAdjust="spacingAndGlyphs" x="1096.08" y="306" textLength="26.93" stroke="#000" stroke-width="0.11">IPAS</text>
<text lengthAdjust="spacingAndGlyphs" x="1140.5" y="306" textLength="15.22">16</text>
<text lengthAdjust="spacingAndGlyphs" x="1194.59" y="306" textLength="45.54">B.INGG</text>
<text lengthAdjust="spacingAndGlyphs" x="1300" y="306" textLength="60.24">QUR HAD</text>
<text lengthAdjust="spacingAndGlyphs" x="1350.04" y="306" textLength="14.75">31</text>
<text lengthAdjust="spacingAndGlyphs" x="1399.36" y="306" textLength="46.11">B.INDO</text>
<text lengthAdjust="spacingAndGlyphs" x="1449.31" y="306" textLength="15.25">19</text>
<text lengthAdjust="spacingAndGlyphs" x="1497.2" y="306" textLength="19.09" stroke="#000" stroke-width="0.17">SKI</text>
<text lengthAdjust="spacingAndGlyphs" x="1544.41" y="306" textLength="15.1">36</text>
<text lengthAdjust="spacingAndGlyphs" x="195.74" y="325" textLength="73.55">11.50-12.20</text>
<text lengthAdjust="spacingAndGlyphs" x="290.97" y="325" textLength="53.61">P.PANCA</text>
<text lengthAdjust="spacingAndGlyphs" x="343.04" y="325" textLength="14.65">15</text>
<text lengthAdjust="spacingAndGlyphs" x="393.51" y="325" textLength="46.11">B.INDO</text>
<text lengthAdjust="spacingAndGlyphs" x="442.4" y="325" textLength="15.22">16</text>
<text lengthAdjust="spacingAndGlyphs" x="487" y="325" textLength="60.24">QUR HAD</text>
<text lengthAdjust="spacingAndGlyphs" x="531.79" y="325" textLength="14.75">31</text>
<text lengthAdjust="spacingAndGlyphs" x="581.11" y="325" textLength="47.55" stroke="#000" stroke-width="0.06">B.ARAB</text>
<text lengthAdjust="spacingAndGlyphs" x="627.71" y="325" textLength="15.21">30</text>
<text lengthAdjust="spacingAndGlyphs" x="677.59" y="325" textLength="45.54">B.INGG</text>
<text lengthAdjust="spacingAndGlyphs" x="729.39" y="325" textLength="14.55">35</text>
<text lengthAdjust="spacingAndGlyphs" x="786.25" y="325" textLength="19.09" stroke="#000" stroke-width="0.17">SKI</text>
<text lengthAdjust="spacingAndGlyphs" x="842.76" y="325" textLength="15.1">36</text>
<text lengthAdjust="spacingAndGlyphs" x="195.74" y="345" textLength="73.54" fill="#DE1219">12.20-12.40</text>
<text lengthAdjust="spacingAndGlyphs" x="290.72" y="345" textLength="39.38" fill="#DE1219">Sholat</text>
<text lengthAdjust="spacingAndGlyphs" x="393.32" y="345" textLength="39.38" fill="#DE1219">Sholat</text>
<text lengthAdjust="spacingAndGlyphs" x="486.87" y="345" textLength="39.38" fill="#DE1219">Sholat</text>
<text lengthAdjust="spacingAndGlyphs" x="580.97" y="345" textLength="39.38" fill="#DE1219">Sholat</text>
<text lengthAdjust="spacingAndGlyphs" x="677.42" y="345" textLength="39.38" fill="#DE1219">Sholat</text>
<text lengthAdjust="spacingAndGlyphs" x="786.32" y="345" textLength="39.38" fill="#DE1219">Sholat</text>
<text font-size="14" transform="translate(121.4 241.35) rotate(-90) scale(0.8697 1)">SENIN</text>
<text lengthAdjust="spacingAndGlyphs" x="195.56" y="365" textLength="73.92">07.15-07.50</text>
<text lengthAdjust="spacingAndGlyphs" x="290.85" y="366" textLength="60.24">QUR HAD</text>
<text lengthAdjust="spacingAndGlyphs" x="343.19" y="365" textLength="14.75">31</text>
<text lengthAdjust="spacingAndGlyphs" x="393.49" y="366" textLength="30.37" stroke="#000" stroke-width="0.21">PJOK</text>
<text lengthAdjust="spacingAndGlyphs" x="442.33" y="365" textLength="15.58">40</text>
<text lengthAdjust="spacingAndGlyphs" x="486.8" y="366" textLength="19.09" stroke="#000" stroke-width="0.17">SKI</text>
<text lengthAdjust="spacingAndGlyphs" x="531.96" y="365" textLength="15.1">36</text>
<text lengthAdjust="spacingAndGlyphs" x="581.16" y="366" textLength="28.7">MTK</text>
<text lengthAdjust="spacingAndGlyphs" x="627.52" y="365" textLength="15.03">18</text>
<text lengthAdjust="spacingAndGlyphs" x="677.56" y="366" textLength="47.55" stroke="#000" stroke-width="0.06">B.ARAB</text>
<text lengthAdjust="spacingAndGlyphs" x="729.71" y="365" textLength="15.21">30</text>
<text lengthAdjust="spacingAndGlyphs" x="786.51" y="366" textLength="28.7">MTK</text>
<text lengthAdjust="spacingAndGlyphs" x="842.69" y="365" textLength="15.45">20</text>
<text lengthAdjust="spacingAndGlyphs" x="195.24" y="386" textLength="73.28">07.50-08.25</text>
<text lengthAdjust="spacingAndGlyphs" x="290.85" y="385" textLength="60.24">QUR HAD</text>
<text lengthAdjust="spacingAndGlyphs" x="343.19" y="386" textLength="14.75">31</text>
<text lengthAdjust="spacingAndGlyphs" x="393.49" y="385" textLength="30.37" stroke="#000" stroke-width="0.21">PJOK</text>
<text lengthAdjust="spacingAndGlyphs" x="442.33" y="386" textLength="15.58">40</text>
<text lengthAdjust="spacingAndGlyphs" x="486.8" y="385" textLength="19.09" stroke="#000" stroke-width="0.17">SKI</text>
<text lengthAdjust="spacingAndGlyphs" x="531.96" y="386" textLength="15.1">36</text>
<text lengthAdjust="spacingAndGlyphs" x="581.16" y="385" textLength="28.7">MTK</text>
<text lengthAdjust="spacingAndGlyphs" x="627.52" y="386" textLength="15.03">18</text>
<text lengthAdjust="spacingAndGlyphs" x="677.56" y="385" textLength="47.55" stroke="#000" stroke-width="0.06">B.ARAB</text>
<text lengthAdjust="spacingAndGlyphs" x="729.71" y="386" textLength="15.21">30</text>
<text lengthAdjust="spacingAndGlyphs" x="786.51" y="385" textLength="28.7">MTK</text>
<text lengthAdjust="spacingAndGlyphs" x="842.69" y="386" textLength="15.45">20</text>
<text lengthAdjust="spacingAndGlyphs" x="903.49" y="385" textLength="73.54">13.10-13.40</text>
<text lengthAdjust="spacingAndGlyphs" x="993.05" y="385" textLength="60.24">QUR HAD</text>
<text lengthAdjust="spacingAndGlyphs" x="1049.79" y="385" textLength="14.75">31</text>
<text lengthAdjust="spacingAndGlyphs" x="1095.8" y="385" textLength="19.09" stroke="#000" stroke-width="0.17">SKI</text>
<text lengthAdjust="spacingAndGlyphs" x="1140.56" y="385" textLength="15.1">36</text>
<text lengthAdjust="spacingAndGlyphs" x="1194.61" y="385" textLength="46.11">B.INDO</text>
<text lengthAdjust="spacingAndGlyphs" x="1248.37" y="385" textLength="15.28">17</text>
<text lengthAdjust="spacingAndGlyphs" x="1300.01" y="385" textLength="47.55" stroke="#000" stroke-width="0.06">B.ARAB</text>
<text lengthAdjust="spacingAndGlyphs" x="1350.26" y="385" textLength="15.21">30</text>
<text lengthAdjust="spacingAndGlyphs" x="1399.38" y="385" textLength="26.93" stroke="#000" stroke-width="0.11">IPAS</text>
<text lengthAdjust="spacingAndGlyphs" x="1449.31" y="385" textLength="15.25">19</text>
<text lengthAdjust="spacingAndGlyphs" x="1497.44" y="385" textLength="30.37" stroke="#000" stroke-width="0.21">PJOK</text>
<text lengthAdjust="spacingAndGlyphs" x="1544.28" y="385" textLength="15.58">40</text>
<text lengthAdjust="spacingAndGlyphs" x="195.56" y="405" textLength="73.92">08.25-09.00</text>
<text lengthAdjust="spacingAndGlyphs" x="290.91" y="405" textLength="46.11">B.INDO</text>
<text lengthAdjust="spacingAndGlyphs" x="343.04" y="405" textLength="14.65">15</text>
<text lengthAdjust="spacingAndGlyphs" x="393.49" y="405" textLength="30.37" stroke="#000" stroke-width="0.21">PJOK</text>
<text lengthAdjust="spacingAndGlyphs" x="442.33" y="405" textLength="15.58">40</text>
<text lengthAdjust="spacingAndGlyphs" x="487.06" y="405" textLength="46.11">B.INDO</text>
<text lengthAdjust="spacingAndGlyphs" x="531.92" y="405" textLength="15.28">17</text>
<text lengthAdjust="spacingAndGlyphs" x="580.9" y="405" textLength="19.09" stroke="#000" stroke-width="0.17">SKI</text>
<text lengthAdjust="spacingAndGlyphs" x="627.66" y="405" textLength="15.1">36</text>
<text lengthAdjust="spacingAndGlyphs" x="677.35" y="405" textLength="28.13" stroke="#000" stroke-width="0.09">SENI</text>
<text lengthAdjust="spacingAndGlyphs" x="729.61" y="405" textLength="15.25">19</text>
<text lengthAdjust="spacingAndGlyphs" x="786.46" y="405" textLength="47.55" stroke="#000" stroke-width="0.06">B.ARAB</text>
<text lengthAdjust="spacingAndGlyphs" x="846.01" y="405" textLength="15.21">30</text>
<text lengthAdjust="spacingAndGlyphs" x="903.49" y="405" textLength="73.54">13.40-14.10</text>
<text lengthAdjust="spacingAndGlyphs" x="993.05" y="405" textLength="60.24">QUR HAD</text>
<text lengthAdjust="spacingAndGlyphs" x="1049.79" y="405" textLength="14.75">31</text>
<text lengthAdjust="spacingAndGlyphs" x="1095.8" y="405" textLength="19.09" stroke="#000" stroke-width="0.17">SKI</text>
<text lengthAdjust="spacingAndGlyphs" x="1140.56" y="405" textLength="15.1">36</text>
<text lengthAdjust="spacingAndGlyphs" x="1194.61" y="405" textLength="46.11">B.INDO</text>
<text lengthAdjust="spacingAndGlyphs" x="1248.37" y="405" textLength="15.28">17</text>
<text lengthAdjust="spacingAndGlyphs" x="1300.01" y="405" textLength="47.55" stroke="#000" stroke-width="0.06">B.ARAB</text>
<text lengthAdjust="spacingAndGlyphs" x="1350.26" y="405" textLength="15.21">30</text>
<text lengthAdjust="spacingAndGlyphs" x="1399.38" y="405" textLength="26.93" stroke="#000" stroke-width="0.11">IPAS</text>
<text lengthAdjust="spacingAndGlyphs" x="1449.31" y="405" textLength="15.25">19</text>
<text lengthAdjust="spacingAndGlyphs" x="1497.44" y="405" textLength="30.37" stroke="#000" stroke-width="0.21">PJOK</text>
<text lengthAdjust="spacingAndGlyphs" x="1544.28" y="405" textLength="15.58">40</text>
<text lengthAdjust="spacingAndGlyphs" x="195.24" y="425" textLength="73.28">09.00-09.35</text>
<text lengthAdjust="spacingAndGlyphs" x="290.91" y="424" textLength="46.11">B.INDO</text>
<text lengthAdjust="spacingAndGlyphs" x="343.04" y="425" textLength="14.65">15</text>
<text lengthAdjust="spacingAndGlyphs" x="393.57" y="424" textLength="53.61">P.PANCA</text>
<text lengthAdjust="spacingAndGlyphs" x="442.4" y="425" textLength="15.22">16</text>
<text lengthAdjust="spacingAndGlyphs" x="487.06" y="424" textLength="46.11">B.INDO</text>
<text lengthAdjust="spacingAndGlyphs" x="531.92" y="425" textLength="15.28">17</text>
<text lengthAdjust="spacingAndGlyphs" x="580.9" y="424" textLength="19.09" stroke="#000" stroke-width="0.17">SKI</text>
<text lengthAdjust="spacingAndGlyphs" x="627.66" y="425" textLength="15.1">36</text>
<text lengthAdjust="spacingAndGlyphs" x="677.59" y="424" textLength="30.37" stroke="#000" stroke-width="0.21">PJOK</text>
<text lengthAdjust="spacingAndGlyphs" x="729.53" y="425" textLength="15.58">40</text>
<text lengthAdjust="spacingAndGlyphs" x="786.46" y="424" textLength="47.55" stroke="#000" stroke-width="0.06">B.ARAB</text>
<text lengthAdjust="spacingAndGlyphs" x="846.01" y="425" textLength="15.21">30</text>
<text lengthAdjust="spacingAndGlyphs" x="903.49" y="424" textLength="73.54">14.10-14.40</text>
<text lengthAdjust="spacingAndGlyphs" x="992.85" y="424" textLength="19.09" stroke="#000" stroke-width="0.17">SKI</text>
<text lengthAdjust="spacingAndGlyphs" x="1049.96" y="424" textLength="15.1">36</text>
<text lengthAdjust="spacingAndGlyphs" x="1096" y="424" textLength="60.24">QUR HAD</text>
<text lengthAdjust="spacingAndGlyphs" x="1140.39" y="424" textLength="14.75">31</text>
<text lengthAdjust="spacingAndGlyphs" x="1194.56" y="424" textLength="47.55" stroke="#000" stroke-width="0.06">B.ARAB</text>
<text lengthAdjust="spacingAndGlyphs" x="1248.46" y="424" textLength="15.21">30</text>
<text lengthAdjust="spacingAndGlyphs" x="1300.06" y="424" textLength="28.7">MTK</text>
<text lengthAdjust="spacingAndGlyphs" x="1350.07" y="424" textLength="15.03">18</text>
<text lengthAdjust="spacingAndGlyphs" x="1399.1" y="424" textLength="28.13" stroke="#000" stroke-width="0.09">SENI</text>
<text lengthAdjust="spacingAndGlyphs" x="1449.31" y="424" textLength="15.25">19</text>
<text lengthAdjust="spacingAndGlyphs" x="1497.44" y="424" textLength="30.37" stroke="#000" stroke-width="0.21">PJOK</text>
<text lengthAdjust="spacingAndGlyphs" x="1544.28" y="424" textLength="15.58">40</text>
<text lengthAdjust="spacingAndGlyphs" x="195.56" y="444" textLength="73.92" fill="#DE1219">09.35-09.50</text>
<text lengthAdjust="spacingAndGlyphs" x="290.85" y="444" textLength="51.31" fill="#DE1219">Istirahat</text>
<text lengthAdjust="spacingAndGlyphs" x="393.45" y="444" textLength="51.31" fill="#DE1219">Istirahat</text>
<text lengthAdjust="spacingAndGlyphs" x="487" y="444" textLength="51.31" fill="#DE1219">Istirahat</text>
<text lengthAdjust="spacingAndGlyphs" x="581.1" y="444" textLength="51.31" fill="#DE1219">Istirahat</text>
<text lengthAdjust="spacingAndGlyphs" x="677.55" y="444" textLength="51.31" fill="#DE1219">Istirahat</text>
<text lengthAdjust="spacingAndGlyphs" x="786.45" y="444" textLength="51.31" fill="#DE1219">Istirahat</text>
<text lengthAdjust="spacingAndGlyphs" x="903.49" y="444" textLength="73.54">14.40-15.10</text>
<text lengthAdjust="spacingAndGlyphs" x="992.85" y="444" textLength="19.09" stroke="#000" stroke-width="0.17">SKI</text>
<text lengthAdjust="spacingAndGlyphs" x="1049.96" y="444" textLength="15.1" fill="#DE1219">36</text>
<text lengthAdjust="spacingAndGlyphs" x="1096" y="444" textLength="60.24">QUR HAD</text>
<text lengthAdjust="spacingAndGlyphs" x="1140.39" y="444" textLength="14.75">31</text>
<text lengthAdjust="spacingAndGlyphs" x="1194.56" y="444" textLength="47.55" stroke="#000" stroke-width="0.06">B.ARAB</text>
<text lengthAdjust="spacingAndGlyphs" x="1248.46" y="444" textLength="15.21" fill="#DE1219">30</text>
<text lengthAdjust="spacingAndGlyphs" x="1300.04" y="444" textLength="30.37" stroke="#000" stroke-width="0.21">PJOK</text>
<text lengthAdjust="spacingAndGlyphs" x="1350.08" y="444" textLength="15.58" fill="#DE1219">40</text>
<text lengthAdjust="spacingAndGlyphs" x="1399.1" y="444" textLength="28.13" stroke="#000" stroke-width="0.09">SENI</text>
<text lengthAdjust="spacingAndGlyphs" x="1449.31" y="444" textLength="15.25">19</text>
<text lengthAdjust="spacingAndGlyphs" x="1497.46" y="444" textLength="28.7">MTK</text>
<text lengthAdjust="spacingAndGlyphs" x="1544.34" y="444" textLength="15.45">20</text>
<text lengthAdjust="spacingAndGlyphs" x="195.24" y="464" textLength="73.28">09.50-10.25</text>
<text lengthAdjust="spacingAndGlyphs" x="290.65" y="464" textLength="19.09" stroke="#000" stroke-width="0.17">SKI</text>
<text lengthAdjust="spacingAndGlyphs" x="343.36" y="464" textLength="15.1">36</text>
<text lengthAdjust="spacingAndGlyphs" x="393.45" y="464" textLength="60.24">QUR HAD</text>
<text lengthAdjust="spacingAndGlyphs" x="442.29" y="464" textLength="14.75">31</text>
<text lengthAdjust="spacingAndGlyphs" x="487.06" y="464" textLength="46.11">B.INDO</text>
<text lengthAdjust="spacingAndGlyphs" x="531.92" y="464" textLength="15.28">17</text>
<text lengthAdjust="spacingAndGlyphs" x="581.16" y="464" textLength="28.7">MTK</text>
<text lengthAdjust="spacingAndGlyphs" x="627.52" y="464" textLength="15.03">18</text>
<text lengthAdjust="spacingAndGlyphs" x="677.59" y="464" textLength="30.37" stroke="#000" stroke-width="0.21">PJOK</text>
<text lengthAdjust="spacingAndGlyphs" x="729.53" y="464" textLength="15.58">40</text>
<text lengthAdjust="spacingAndGlyphs" x="786.51" y="464" textLength="28.7">MTK</text>
<text lengthAdjust="spacingAndGlyphs" x="842.69" y="464" textLength="15.45">20</text>
<text lengthAdjust="spacingAndGlyphs" x="903.18" y="464" textLength="72.9" fill="#DE1219">15.10-15.25</text>
<text lengthAdjust="spacingAndGlyphs" x="993.05" y="464" textLength="51.31" fill="#DE1219">Istirahat</text>
<text lengthAdjust="spacingAndGlyphs" x="1096" y="464" textLength="51.31" fill="#DE1219">Istirahat</text>
<text lengthAdjust="spacingAndGlyphs" x="1194.55" y="464" textLength="51.31" fill="#DE1219">Istirahat</text>
<text lengthAdjust="spacingAndGlyphs" x="1300" y="464" textLength="51.31" fill="#DE1219">Istirahat</text>
<text lengthAdjust="spacingAndGlyphs" x="1399.3" y="464" textLength="51.31" fill="#DE1219">Istirahat</text>
<text lengthAdjust="spacingAndGlyphs" x="1497.4" y="464" textLength="51.31" fill="#DE1219">Istirahat</text>
<text lengthAdjust="spacingAndGlyphs" x="195.74" y="483.6" textLength="73.55">10.25-11.00</text>
<text lengthAdjust="spacingAndGlyphs" x="290.65" y="483" textLength="19.09" stroke="#000" stroke-width="0.17">SKI</text>
<text lengthAdjust="spacingAndGlyphs" x="343.36" y="483.6" textLength="15.1">36</text>
<text lengthAdjust="spacingAndGlyphs" x="393.45" y="483" textLength="60.24">QUR HAD</text>
<text lengthAdjust="spacingAndGlyphs" x="442.29" y="483.6" textLength="14.75">31</text>
<text lengthAdjust="spacingAndGlyphs" x="487.06" y="483" textLength="46.11">B.INDO</text>
<text lengthAdjust="spacingAndGlyphs" x="531.92" y="483.6" textLength="15.28">17</text>
<text lengthAdjust="spacingAndGlyphs" x="581.22" y="483" textLength="53.61">P.PANCA</text>
<text lengthAdjust="spacingAndGlyphs" x="627.52" y="483.6" textLength="15.03">18</text>
<text lengthAdjust="spacingAndGlyphs" x="677.59" y="483" textLength="30.37" stroke="#000" stroke-width="0.21">PJOK</text>
<text lengthAdjust="spacingAndGlyphs" x="729.53" y="483.6" textLength="15.58">40</text>
<text lengthAdjust="spacingAndGlyphs" x="786.51" y="483" textLength="46.11">B.INDO</text>
<text lengthAdjust="spacingAndGlyphs" x="842.69" y="483.6" textLength="15.45">20</text>
<text lengthAdjust="spacingAndGlyphs" x="903.18" y="483" textLength="72.9">15.25-15.55</text>
<text lengthAdjust="spacingAndGlyphs" x="993.11" y="483" textLength="46.11">B.INDO</text>
<text lengthAdjust="spacingAndGlyphs" x="1049.64" y="483" textLength="14.65">15</text>
<text lengthAdjust="spacingAndGlyphs" x="1096.06" y="483" textLength="46.11">B.INDO</text>
<text lengthAdjust="spacingAndGlyphs" x="1140.5" y="483" textLength="15.22">16</text>
<text lengthAdjust="spacingAndGlyphs" x="1194.35" y="483" textLength="19.09" stroke="#000" stroke-width="0.17">SKI</text>
<text lengthAdjust="spacingAndGlyphs" x="1248.41" y="483" textLength="15.1">36</text>
<text lengthAdjust="spacingAndGlyphs" x="1300.04" y="483" textLength="30.37" stroke="#000" stroke-width="0.21">PJOK</text>
<text lengthAdjust="spacingAndGlyphs" x="1350.08" y="483" textLength="15.58">40</text>
<text lengthAdjust="spacingAndGlyphs" x="1399.31" y="483" textLength="47.55" stroke="#000" stroke-width="0.06">B.ARAB</text>
<text lengthAdjust="spacingAndGlyphs" x="1449.41" y="483" textLength="15.21">30</text>
<text lengthAdjust="spacingAndGlyphs" x="1497.46" y="483" textLength="28.7">MTK</text>
<text lengthAdjust="spacingAndGlyphs" x="1544.34" y="483" textLength="15.45">20</text>
<text lengthAdjust="spacingAndGlyphs" x="195.43" y="503" textLength="72.35">11.00.11.35</text>
<text lengthAdjust="spacingAndGlyphs" x="290.93" y="503" textLength="26.93" stroke="#000" stroke-width="0.11">IPAS</text>
<text lengthAdjust="spacingAndGlyphs" x="343.04" y="503" textLength="14.65">15</text>
<text lengthAdjust="spacingAndGlyphs" x="393.25" y="503" textLength="19.09" stroke="#000" stroke-width="0.17">SKI</text>
<text lengthAdjust="spacingAndGlyphs" x="442.46" y="503" textLength="15.1">36</text>
<text lengthAdjust="spacingAndGlyphs" x="487.04" y="503" textLength="30.37" stroke="#000" stroke-width="0.21">PJOK</text>
<text lengthAdjust="spacingAndGlyphs" x="531.83" y="503" textLength="15.58">40</text>
<text lengthAdjust="spacingAndGlyphs" x="581.22" y="503" textLength="53.61">P.PANCA</text>
<text lengthAdjust="spacingAndGlyphs" x="627.52" y="503" textLength="15.03">18</text>
<text lengthAdjust="spacingAndGlyphs" x="677.61" y="503" textLength="28.7">MTK</text>
<text lengthAdjust="spacingAndGlyphs" x="729.61" y="503" textLength="15.25">19</text>
<text lengthAdjust="spacingAndGlyphs" x="786.51" y="503" textLength="46.11">B.INDO</text>
<text lengthAdjust="spacingAndGlyphs" x="842.69" y="503" textLength="15.45">20</text>
<text lengthAdjust="spacingAndGlyphs" x="903.18" y="503" textLength="72.9">15.55-16.25</text>
<text lengthAdjust="spacingAndGlyphs" x="993.11" y="503" textLength="46.11">B.INDO</text>
<text lengthAdjust="spacingAndGlyphs" x="1049.64" y="503" textLength="14.65">15</text>
<text lengthAdjust="spacingAndGlyphs" x="1096.06" y="503" textLength="46.11">B.INDO</text>
<text lengthAdjust="spacingAndGlyphs" x="1140.5" y="503" textLength="15.22">16</text>
<text lengthAdjust="spacingAndGlyphs" x="1194.35" y="503" textLength="19.09" stroke="#000" stroke-width="0.17">SKI</text>
<text lengthAdjust="spacingAndGlyphs" x="1248.41" y="503" textLength="15.1">36</text>
<text lengthAdjust="spacingAndGlyphs" x="1300.04" y="503" textLength="30.37" stroke="#000" stroke-width="0.21">PJOK</text>
<text lengthAdjust="spacingAndGlyphs" x="1350.08" y="503" textLength="15.58">40</text>
<text lengthAdjust="spacingAndGlyphs" x="1399.31" y="503" textLength="47.55" stroke="#000" stroke-width="0.06">B.ARAB</text>
<text lengthAdjust="spacingAndGlyphs" x="1449.41" y="503" textLength="15.21">30</text>
<text lengthAdjust="spacingAndGlyphs" x="1497.46" y="503" textLength="28.7">MTK</text>
<text lengthAdjust="spacingAndGlyphs" x="1544.34" y="503" textLength="15.45">20</text>
<text lengthAdjust="spacingAndGlyphs" x="195.74" y="522" textLength="73.55">11.35-12.10</text>
<text lengthAdjust="spacingAndGlyphs" x="290.93" y="522" textLength="26.93" stroke="#000" stroke-width="0.11">IPAS</text>
<text lengthAdjust="spacingAndGlyphs" x="343.04" y="522" textLength="14.65">15</text>
<text lengthAdjust="spacingAndGlyphs" x="393.25" y="522" textLength="19.09" stroke="#000" stroke-width="0.17">SKI</text>
<text lengthAdjust="spacingAndGlyphs" x="442.46" y="522" textLength="15.1">36</text>
<text lengthAdjust="spacingAndGlyphs" x="487.04" y="522" textLength="30.37" stroke="#000" stroke-width="0.21">PJOK</text>
<text lengthAdjust="spacingAndGlyphs" x="531.83" y="522" textLength="15.58">40</text>
<text lengthAdjust="spacingAndGlyphs" x="581.22" y="522" textLength="53.61">P.PANCA</text>
<text lengthAdjust="spacingAndGlyphs" x="627.52" y="522" textLength="15.03">18</text>
<text lengthAdjust="spacingAndGlyphs" x="677.61" y="522" textLength="28.7">MTK</text>
<text lengthAdjust="spacingAndGlyphs" x="729.61" y="522" textLength="15.25">19</text>
<text lengthAdjust="spacingAndGlyphs" x="786.51" y="522" textLength="46.11">B.INDO</text>
<text lengthAdjust="spacingAndGlyphs" x="842.69" y="522" textLength="15.45">20</text>
<text lengthAdjust="spacingAndGlyphs" x="195.74" y="542" textLength="73.54" fill="#DE1219">12.10-12.30</text>
<text lengthAdjust="spacingAndGlyphs" x="290.72" y="542" textLength="39.38" fill="#DE1219">Sholat</text>
<text lengthAdjust="spacingAndGlyphs" x="393.32" y="542" textLength="39.38" fill="#DE1219">Sholat</text>
<text lengthAdjust="spacingAndGlyphs" x="486.87" y="542" textLength="39.38" fill="#DE1219">Sholat</text>
<text lengthAdjust="spacingAndGlyphs" x="580.97" y="542" textLength="39.38" fill="#DE1219">Sholat</text>
<text lengthAdjust="spacingAndGlyphs" x="677.42" y="542" textLength="39.38" fill="#DE1219">Sholat</text>
<text lengthAdjust="spacingAndGlyphs" x="786.32" y="542" textLength="39.38" fill="#DE1219">Sholat</text>
<text lengthAdjust="spacingAndGlyphs" x="195.43" y="562" textLength="72.9">12.30-13.05</text>
<text lengthAdjust="spacingAndGlyphs" x="290.93" y="562" textLength="26.93" stroke="#000" stroke-width="0.11">IPAS</text>
<text lengthAdjust="spacingAndGlyphs" x="343.04" y="562" textLength="14.65">15</text>
<text lengthAdjust="spacingAndGlyphs" x="393.57" y="562" textLength="53.61">P.PANCA</text>
<text lengthAdjust="spacingAndGlyphs" x="442.4" y="562" textLength="15.22">16</text>
<text lengthAdjust="spacingAndGlyphs" x="487.04" y="562" textLength="30.37" stroke="#000" stroke-width="0.21">PJOK</text>
<text lengthAdjust="spacingAndGlyphs" x="531.83" y="562" textLength="15.58">40</text>
<text lengthAdjust="spacingAndGlyphs" x="581.22" y="562" textLength="53.61">P.PANCA</text>
<text lengthAdjust="spacingAndGlyphs" x="627.52" y="562" textLength="15.03">18</text>
<text lengthAdjust="spacingAndGlyphs" x="677.61" y="562" textLength="28.7">MTK</text>
<text lengthAdjust="spacingAndGlyphs" x="729.61" y="562" textLength="15.25">19</text>
<text lengthAdjust="spacingAndGlyphs" x="786.51" y="562" textLength="46.11">B.INDO</text>
<text lengthAdjust="spacingAndGlyphs" x="842.69" y="562" textLength="15.45">20</text>
<text font-size="14" transform="translate(121.4 457.8) rotate(-90) scale(0.7870 1)">SELASA</text>
<text lengthAdjust="spacingAndGlyphs" x="195.56" y="582" textLength="73.92">07.15-07.50</text>
<text lengthAdjust="spacingAndGlyphs" x="290.89" y="583" textLength="30.37" stroke="#000" stroke-width="0.21">PJOK</text>
<text lengthAdjust="spacingAndGlyphs" x="343.37" y="582" textLength="15.13">39</text>
<text lengthAdjust="spacingAndGlyphs" x="393.84" y="583" textLength="22.22">FIQ</text>
<text lengthAdjust="spacingAndGlyphs" x="442.37" y="582" textLength="14.92">38</text>
<text lengthAdjust="spacingAndGlyphs" x="487.06" y="583" textLength="28.7">MTK</text>
<text lengthAdjust="spacingAndGlyphs" x="531.92" y="582" textLength="15.28">17</text>
<text lengthAdjust="spacingAndGlyphs" x="581.14" y="583" textLength="30.37" stroke="#000" stroke-width="0.21">PJOK</text>
<text lengthAdjust="spacingAndGlyphs" x="627.53" y="582" textLength="15.58">40</text>
<text lengthAdjust="spacingAndGlyphs" x="677.63" y="583" textLength="26.93" stroke="#000" stroke-width="0.11">IPAS</text>
<text lengthAdjust="spacingAndGlyphs" x="729.61" y="582" textLength="15.25">19</text>
<text lengthAdjust="spacingAndGlyphs" x="786.51" y="583" textLength="28.7">MTK</text>
<text lengthAdjust="spacingAndGlyphs" x="842.69" y="582" textLength="15.45">20</text>
<text lengthAdjust="spacingAndGlyphs" x="195.24" y="603" textLength="73.28">07.50-08.25</text>
<text lengthAdjust="spacingAndGlyphs" x="290.89" y="602" textLength="30.37" stroke="#000" stroke-width="0.21">PJOK</text>
<text lengthAdjust="spacingAndGlyphs" x="343.37" y="603" textLength="15.13">39</text>
<text lengthAdjust="spacingAndGlyphs" x="393.84" y="602" textLength="22.22">FIQ</text>
<text lengthAdjust="spacingAndGlyphs" x="442.37" y="603" textLength="14.92">38</text>
<text lengthAdjust="spacingAndGlyphs" x="487.06" y="602" textLength="28.7">MTK</text>
<text lengthAdjust="spacingAndGlyphs" x="531.92" y="603" textLength="15.28">17</text>
<text lengthAdjust="spacingAndGlyphs" x="581.14" y="602" textLength="30.37" stroke="#000" stroke-width="0.21">PJOK</text>
<text lengthAdjust="spacingAndGlyphs" x="627.53" y="603" textLength="15.58">40</text>
<text lengthAdjust="spacingAndGlyphs" x="677.63" y="602" textLength="26.93" stroke="#000" stroke-width="0.11">IPAS</text>
<text lengthAdjust="spacingAndGlyphs" x="729.61" y="603" textLength="15.25">19</text>
<text lengthAdjust="spacingAndGlyphs" x="786.51" y="602" textLength="28.7">MTK</text>
<text lengthAdjust="spacingAndGlyphs" x="842.69" y="603" textLength="15.45">20</text>
<text lengthAdjust="spacingAndGlyphs" x="903.49" y="602" textLength="73.54">13.10-13.40</text>
<text lengthAdjust="spacingAndGlyphs" x="993.11" y="602" textLength="28.7">MTK</text>
<text lengthAdjust="spacingAndGlyphs" x="1049.64" y="602" textLength="14.65">15</text>
<text lengthAdjust="spacingAndGlyphs" x="1096.12" y="602" textLength="53.61">P.PANCA</text>
<text lengthAdjust="spacingAndGlyphs" x="1140.5" y="602" textLength="15.22">16</text>
<text lengthAdjust="spacingAndGlyphs" x="1194.61" y="602" textLength="28.7">MTK</text>
<text lengthAdjust="spacingAndGlyphs" x="1248.37" y="602" textLength="15.28">17</text>
<text lengthAdjust="spacingAndGlyphs" x="1300.08" y="602" textLength="26.93" stroke="#000" stroke-width="0.11">IPAS</text>
<text lengthAdjust="spacingAndGlyphs" x="1350.07" y="602" textLength="15.03">18</text>
<text lengthAdjust="spacingAndGlyphs" x="1399.14" y="602" textLength="51.16">AQIDAH</text>
<text lengthAdjust="spacingAndGlyphs" x="1449.21" y="602" textLength="15.53">47</text>
<text lengthAdjust="spacingAndGlyphs" x="1497.79" y="602" textLength="22.22">FIQ</text>
<text lengthAdjust="spacingAndGlyphs" x="1544.32" y="602" textLength="14.92">38</text>
<text lengthAdjust="spacingAndGlyphs" x="195.56" y="622" textLength="73.92">08.25-09.00</text>
<text lengthAdjust="spacingAndGlyphs" x="290.89" y="622" textLength="30.37" stroke="#000" stroke-width="0.21">PJOK</text>
<text lengthAdjust="spacingAndGlyphs" x="343.37" y="622" textLength="15.13">39</text>
<text lengthAdjust="spacingAndGlyphs" x="393.51" y="622" textLength="28.7">MTK</text>
<text lengthAdjust="spacingAndGlyphs" x="442.4" y="622" textLength="15.22">16</text>
<text lengthAdjust="spacingAndGlyphs" x="487.06" y="622" textLength="28.7">MTK</text>
<text lengthAdjust="spacingAndGlyphs" x="531.92" y="622" textLength="15.28">17</text>
<text lengthAdjust="spacingAndGlyphs" x="581.14" y="622" textLength="30.37" stroke="#000" stroke-width="0.21">PJOK</text>
<text lengthAdjust="spacingAndGlyphs" x="627.53" y="622" textLength="15.58">40</text>
<text lengthAdjust="spacingAndGlyphs" x="677.63" y="622" textLength="26.93" stroke="#000" stroke-width="0.11">IPAS</text>
<text lengthAdjust="spacingAndGlyphs" x="729.61" y="622" textLength="15.25">19</text>
<text lengthAdjust="spacingAndGlyphs" x="786.29" y="622" textLength="51.16">AQIDAH</text>
<text lengthAdjust="spacingAndGlyphs" x="842.61" y="622" textLength="15.53">47</text>
<text lengthAdjust="spacingAndGlyphs" x="903.49" y="622" textLength="73.54">13.40-14.10</text>
<text lengthAdjust="spacingAndGlyphs" x="993.11" y="622" textLength="28.7">MTK</text>
<text lengthAdjust="spacingAndGlyphs" x="1049.64" y="622" textLength="14.65">15</text>
<text lengthAdjust="spacingAndGlyphs" x="1096.12" y="622" textLength="53.61">P.PANCA</text>
<text lengthAdjust="spacingAndGlyphs" x="1140.5" y="622" textLength="15.22">16</text>
<text lengthAdjust="spacingAndGlyphs" x="1194.61" y="622" textLength="28.7">MTK</text>
<text lengthAdjust="spacingAndGlyphs" x="1248.37" y="622" textLength="15.28">17</text>
<text lengthAdjust="spacingAndGlyphs" x="1300.08" y="622" textLength="26.93" stroke="#000" stroke-width="0.11">IPAS</text>
<text lengthAdjust="spacingAndGlyphs" x="1350.07" y="622" textLength="15.03">18</text>
<text lengthAdjust="spacingAndGlyphs" x="1399.14" y="622" textLength="51.16">AQIDAH</text>
<text lengthAdjust="spacingAndGlyphs" x="1449.21" y="622" textLength="15.53">47</text>
<text lengthAdjust="spacingAndGlyphs" x="1497.79" y="622" textLength="22.22">FIQ</text>
<text lengthAdjust="spacingAndGlyphs" x="1544.32" y="622" textLength="14.92">38</text>
<text lengthAdjust="spacingAndGlyphs" x="195.24" y="642" textLength="73.28">09.00-09.35</text>
<text lengthAdjust="spacingAndGlyphs" x="290.97" y="641" textLength="53.61">P.PANCA</text>
<text lengthAdjust="spacingAndGlyphs" x="393.51" y="641" textLength="28.7">MTK</text>
<text lengthAdjust="spacingAndGlyphs" x="442.4" y="642" textLength="15.22">16</text>
<text lengthAdjust="spacingAndGlyphs" x="487.06" y="641" textLength="46.11">B.INDO</text>
<text lengthAdjust="spacingAndGlyphs" x="531.92" y="642" textLength="15.28">17</text>
<text lengthAdjust="spacingAndGlyphs" x="581.16" y="641" textLength="46.11">B.INDO</text>
<text lengthAdjust="spacingAndGlyphs" x="627.52" y="642" textLength="15.03">18</text>
<text lengthAdjust="spacingAndGlyphs" x="677.67" y="641" textLength="53.61">P.PANCA</text>
<text lengthAdjust="spacingAndGlyphs" x="729.61" y="642" textLength="15.25">19</text>
<text lengthAdjust="spacingAndGlyphs" x="786.29" y="641" textLength="51.16">AQIDAH</text>
<text lengthAdjust="spacingAndGlyphs" x="842.61" y="642" textLength="15.53">47</text>
<text lengthAdjust="spacingAndGlyphs" x="903.49" y="641" textLength="73.54">14.10-14.40</text>
<text lengthAdjust="spacingAndGlyphs" x="993.11" y="641" textLength="28.7">MTK</text>
<text lengthAdjust="spacingAndGlyphs" x="1049.64" y="641" textLength="14.65">15</text>
<text lengthAdjust="spacingAndGlyphs" x="1096.06" y="641" textLength="46.11">B.INDO</text>
<text lengthAdjust="spacingAndGlyphs" x="1140.5" y="641" textLength="15.22">16</text>
<text lengthAdjust="spacingAndGlyphs" x="1194.94" y="641" textLength="22.22">FIQ</text>
<text lengthAdjust="spacingAndGlyphs" x="1248.32" y="641" textLength="14.92">38</text>
<text lengthAdjust="spacingAndGlyphs" x="1299.84" y="641" textLength="51.16">AQIDAH</text>
<text lengthAdjust="spacingAndGlyphs" x="1350.06" y="641" textLength="15.53">47</text>
<text lengthAdjust="spacingAndGlyphs" x="1399.36" y="641" textLength="28.7">MTK</text>
<text lengthAdjust="spacingAndGlyphs" x="1449.31" y="641" textLength="15.25">19</text>
<text lengthAdjust="spacingAndGlyphs" x="1497.52" y="641" textLength="53.61">P.PANCA</text>
<text lengthAdjust="spacingAndGlyphs" x="1544.34" y="641" textLength="15.45">20</text>
<text lengthAdjust="spacingAndGlyphs" x="195.56" y="661" textLength="73.92" fill="#DE1219">09.35-09.50</text>
<text lengthAdjust="spacingAndGlyphs" x="290.85" y="661" textLength="51.31" fill="#DE1219">Istirahat</text>
<text lengthAdjust="spacingAndGlyphs" x="393.45" y="661" textLength="51.31" fill="#DE1219">Istirahat</text>
<text lengthAdjust="spacingAndGlyphs" x="487" y="661" textLength="51.31" fill="#DE1219">Istirahat</text>
<text lengthAdjust="spacingAndGlyphs" x="581.1" y="661" textLength="51.31" fill="#DE1219">Istirahat</text>
<text lengthAdjust="spacingAndGlyphs" x="677.55" y="661" textLength="51.31" fill="#DE1219">Istirahat</text>
<text lengthAdjust="spacingAndGlyphs" x="786.45" y="661" textLength="51.31" fill="#DE1219">Istirahat</text>
<text lengthAdjust="spacingAndGlyphs" x="903.49" y="661" textLength="73.54">14.40-15.10</text>
<text lengthAdjust="spacingAndGlyphs" x="993.09" y="661" textLength="30.37" stroke="#000" stroke-width="0.21">PJOK</text>
<text lengthAdjust="spacingAndGlyphs" x="1049.97" y="661" textLength="15.13">39</text>
<text lengthAdjust="spacingAndGlyphs" x="1096.06" y="661" textLength="28.7">MTK</text>
<text lengthAdjust="spacingAndGlyphs" x="1140.5" y="661" textLength="15.22">16</text>
<text lengthAdjust="spacingAndGlyphs" x="1194.94" y="661" textLength="22.22">FIQ</text>
<text lengthAdjust="spacingAndGlyphs" x="1248.32" y="661" textLength="14.92">38</text>
<text lengthAdjust="spacingAndGlyphs" x="1299.84" y="661" textLength="51.16">AQIDAH</text>
<text lengthAdjust="spacingAndGlyphs" x="1350.06" y="661" textLength="15.53">47</text>
<text lengthAdjust="spacingAndGlyphs" x="1399.36" y="661" textLength="28.7">MTK</text>
<text lengthAdjust="spacingAndGlyphs" x="1449.31" y="661" textLength="15.25">19</text>
<text lengthAdjust="spacingAndGlyphs" x="1497.52" y="661" textLength="53.61">P.PANCA</text>
<text lengthAdjust="spacingAndGlyphs" x="1544.34" y="661" textLength="15.45">20</text>
<text lengthAdjust="spacingAndGlyphs" x="195.24" y="681" textLength="73.28">09.50-10.25</text>
<text lengthAdjust="spacingAndGlyphs" x="291.24" y="681" textLength="22.22">FIQ</text>
<text lengthAdjust="spacingAndGlyphs" x="343.27" y="681" textLength="14.92">38</text>
<text lengthAdjust="spacingAndGlyphs" x="393.51" y="681" textLength="28.7">MTK</text>
<text lengthAdjust="spacingAndGlyphs" x="487.06" y="681" textLength="46.11">B.INDO</text>
<text lengthAdjust="spacingAndGlyphs" x="531.92" y="681" textLength="15.28">17</text>
<text lengthAdjust="spacingAndGlyphs" x="580.94" y="681" textLength="51.16">AQIDAH</text>
<text lengthAdjust="spacingAndGlyphs" x="627.51" y="681" textLength="15.53">47</text>
<text lengthAdjust="spacingAndGlyphs" x="677.67" y="681" textLength="53.61">P.PANCA</text>
<text lengthAdjust="spacingAndGlyphs" x="729.61" y="681" textLength="15.25">19</text>
<text lengthAdjust="spacingAndGlyphs" x="786.53" y="681" textLength="26.93" stroke="#000" stroke-width="0.11">IPAS</text>
<text lengthAdjust="spacingAndGlyphs" x="842.69" y="681" textLength="15.45">20</text>
<text lengthAdjust="spacingAndGlyphs" x="903.18" y="681" textLength="72.9" fill="#DE1219">15.10-15.25</text>
<text lengthAdjust="spacingAndGlyphs" x="993.05" y="681" textLength="51.31" fill="#DE1219">Istirahat</text>
<text lengthAdjust="spacingAndGlyphs" x="1096" y="681" textLength="51.31" fill="#DE1219">Istirahat</text>
<text lengthAdjust="spacingAndGlyphs" x="1194.55" y="681" textLength="51.31" fill="#DE1219">Istirahat</text>
<text lengthAdjust="spacingAndGlyphs" x="1300" y="681" textLength="51.31" fill="#DE1219">Istirahat</text>
<text lengthAdjust="spacingAndGlyphs" x="1399.3" y="681" textLength="51.31" fill="#DE1219">Istirahat</text>
<text lengthAdjust="spacingAndGlyphs" x="1497.4" y="681" textLength="51.31" fill="#DE1219">Istirahat</text>
<text lengthAdjust="spacingAndGlyphs" x="195.74" y="701" textLength="73.55">10.25-11.00</text>
<text lengthAdjust="spacingAndGlyphs" x="291.24" y="700" textLength="22.22">FIQ</text>
<text lengthAdjust="spacingAndGlyphs" x="343.27" y="701" textLength="14.92">38</text>
<text lengthAdjust="spacingAndGlyphs" x="393.57" y="700" textLength="53.61">P.PANCA</text>
<text lengthAdjust="spacingAndGlyphs" x="442.4" y="701" textLength="15.22">16</text>
<text lengthAdjust="spacingAndGlyphs" x="487.12" y="700" textLength="53.61">P.PANCA</text>
<text lengthAdjust="spacingAndGlyphs" x="531.92" y="701" textLength="15.28">17</text>
<text lengthAdjust="spacingAndGlyphs" x="580.94" y="700" textLength="51.16">AQIDAH</text>
<text lengthAdjust="spacingAndGlyphs" x="627.51" y="701" textLength="15.53">47</text>
<text lengthAdjust="spacingAndGlyphs" x="677.67" y="700" textLength="53.61">P.PANCA</text>
<text lengthAdjust="spacingAndGlyphs" x="729.61" y="701" textLength="15.25">19</text>
<text lengthAdjust="spacingAndGlyphs" x="786.53" y="700" textLength="26.93" stroke="#000" stroke-width="0.11">IPAS</text>
<text lengthAdjust="spacingAndGlyphs" x="842.69" y="701" textLength="15.45">20</text>
<text lengthAdjust="spacingAndGlyphs" x="903.18" y="700" textLength="72.9">15.25-15.55</text>
<text lengthAdjust="spacingAndGlyphs" x="993.09" y="700" textLength="30.37" stroke="#000" stroke-width="0.21">PJOK</text>
<text lengthAdjust="spacingAndGlyphs" x="1049.97" y="700" textLength="15.13">39</text>
<text lengthAdjust="spacingAndGlyphs" x="1096.39" y="700" textLength="22.22">FIQ</text>
<text lengthAdjust="spacingAndGlyphs" x="1140.47" y="700" textLength="14.92">38</text>
<text lengthAdjust="spacingAndGlyphs" x="1194.67" y="700" textLength="53.61">P.PANCA</text>
<text lengthAdjust="spacingAndGlyphs" x="1248.37" y="700" textLength="15.28">17</text>
<text lengthAdjust="spacingAndGlyphs" x="1300.12" y="700" textLength="53.61">P.PANCA</text>
<text lengthAdjust="spacingAndGlyphs" x="1350.07" y="700" textLength="15.03">18</text>
<text lengthAdjust="spacingAndGlyphs" x="1399.36" y="700" textLength="46.11">B.INDO</text>
<text lengthAdjust="spacingAndGlyphs" x="1449.31" y="700" textLength="15.25">19</text>
<text lengthAdjust="spacingAndGlyphs" x="1497.24" y="700" textLength="51.16">AQIDAH</text>
<text lengthAdjust="spacingAndGlyphs" x="1544.26" y="700" textLength="15.53">47</text>
<text lengthAdjust="spacingAndGlyphs" x="195.43" y="720" textLength="72.35">11.00.11.35</text>
<text lengthAdjust="spacingAndGlyphs" x="290.91" y="720" textLength="46.11">B.INDO</text>
<text lengthAdjust="spacingAndGlyphs" x="343.04" y="720" textLength="14.65">15</text>
<text lengthAdjust="spacingAndGlyphs" x="393.57" y="720" textLength="53.61">P.PANCA</text>
<text lengthAdjust="spacingAndGlyphs" x="442.4" y="720" textLength="15.22">16</text>
<text lengthAdjust="spacingAndGlyphs" x="487.39" y="720" textLength="22.22">FIQ</text>
<text lengthAdjust="spacingAndGlyphs" x="531.87" y="720" textLength="14.92">38</text>
<text lengthAdjust="spacingAndGlyphs" x="581.16" y="720" textLength="46.11">B.INDO</text>
<text lengthAdjust="spacingAndGlyphs" x="627.52" y="720" textLength="15.03">18</text>
<text lengthAdjust="spacingAndGlyphs" x="677.39" y="720" textLength="51.16">AQIDAH</text>
<text lengthAdjust="spacingAndGlyphs" x="729.51" y="720" textLength="15.53">47</text>
<text lengthAdjust="spacingAndGlyphs" x="786.53" y="720" textLength="26.93" stroke="#000" stroke-width="0.11">IPAS</text>
<text lengthAdjust="spacingAndGlyphs" x="842.69" y="720" textLength="15.45">20</text>
<text lengthAdjust="spacingAndGlyphs" x="903.18" y="720" textLength="72.9">15.55-16.25</text>
<text lengthAdjust="spacingAndGlyphs" x="993.09" y="720" textLength="30.37" stroke="#000" stroke-width="0.21">PJOK</text>
<text lengthAdjust="spacingAndGlyphs" x="1049.97" y="720" textLength="15.13">39</text>
<text lengthAdjust="spacingAndGlyphs" x="1096.39" y="720" textLength="22.22">FIQ</text>
<text lengthAdjust="spacingAndGlyphs" x="1140.47" y="720" textLength="14.92">38</text>
<text lengthAdjust="spacingAndGlyphs" x="1194.67" y="720" textLength="53.61">P.PANCA</text>
<text lengthAdjust="spacingAndGlyphs" x="1248.37" y="720" textLength="15.28">17</text>
<text lengthAdjust="spacingAndGlyphs" x="1300.12" y="720" textLength="53.61">P.PANCA</text>
<text lengthAdjust="spacingAndGlyphs" x="1350.07" y="720" textLength="15.03">18</text>
<text lengthAdjust="spacingAndGlyphs" x="1399.36" y="720" textLength="46.11">B.INDO</text>
<text lengthAdjust="spacingAndGlyphs" x="1449.31" y="720" textLength="15.25">19</text>
<text lengthAdjust="spacingAndGlyphs" x="1497.24" y="720" textLength="51.16">AQIDAH</text>
<text lengthAdjust="spacingAndGlyphs" x="1544.26" y="720" textLength="15.53">47</text>
<text lengthAdjust="spacingAndGlyphs" x="195.74" y="740" textLength="73.55">11.35-12.10</text>
<text lengthAdjust="spacingAndGlyphs" x="290.91" y="740" textLength="46.11">B.INDO</text>
<text lengthAdjust="spacingAndGlyphs" x="343.04" y="740" textLength="14.65">15</text>
<text lengthAdjust="spacingAndGlyphs" x="393.25" y="740" textLength="28.13" stroke="#000" stroke-width="0.09">SENI</text>
<text lengthAdjust="spacingAndGlyphs" x="442.4" y="740" textLength="15.22">16</text>
<text lengthAdjust="spacingAndGlyphs" x="487.39" y="740" textLength="22.22">FIQ</text>
<text lengthAdjust="spacingAndGlyphs" x="531.87" y="740" textLength="14.92">38</text>
<text lengthAdjust="spacingAndGlyphs" x="581.16" y="740" textLength="46.11">B.INDO</text>
<text lengthAdjust="spacingAndGlyphs" x="627.52" y="740" textLength="15.03">18</text>
<text lengthAdjust="spacingAndGlyphs" x="677.39" y="740" textLength="51.16">AQIDAH</text>
<text lengthAdjust="spacingAndGlyphs" x="729.51" y="740" textLength="15.53">47</text>
<text lengthAdjust="spacingAndGlyphs" x="786.53" y="740" textLength="26.93" stroke="#000" stroke-width="0.11">IPAS</text>
<text lengthAdjust="spacingAndGlyphs" x="842.69" y="740" textLength="15.45">20</text>
<text lengthAdjust="spacingAndGlyphs" x="195.74" y="759" textLength="73.54">12.10-12.40</text>
<text lengthAdjust="spacingAndGlyphs" x="290.91" y="759" textLength="46.11">B.INDO</text>
<text lengthAdjust="spacingAndGlyphs" x="343.04" y="759" textLength="14.65">15</text>
<text lengthAdjust="spacingAndGlyphs" x="393.25" y="759" textLength="28.13" stroke="#000" stroke-width="0.09">SENI</text>
<text lengthAdjust="spacingAndGlyphs" x="442.4" y="759" textLength="15.22">16</text>
<text lengthAdjust="spacingAndGlyphs" x="487.12" y="759" textLength="53.61">P.PANCA</text>
<text lengthAdjust="spacingAndGlyphs" x="531.92" y="759" textLength="15.28">17</text>
<text lengthAdjust="spacingAndGlyphs" x="581.16" y="759" textLength="46.11">B.INDO</text>
<text lengthAdjust="spacingAndGlyphs" x="627.52" y="759" textLength="15.03">18</text>
<text lengthAdjust="spacingAndGlyphs" x="677.67" y="759" textLength="53.61">P.PANCA</text>
<text lengthAdjust="spacingAndGlyphs" x="729.51" y="759" textLength="14.79">34</text>
<text lengthAdjust="spacingAndGlyphs" x="786.53" y="759" textLength="26.93" stroke="#000" stroke-width="0.11">IPAS</text>
<text lengthAdjust="spacingAndGlyphs" x="842.69" y="759" textLength="15.45">20</text>
<text font-size="14" transform="translate(121.4 665.15) rotate(-90) scale(0.8615 1)">RABU</text>
<text lengthAdjust="spacingAndGlyphs" x="195.56" y="779" textLength="73.92">07.00-07.30</text>
<text lengthAdjust="spacingAndGlyphs" x="290.68" y="779" textLength="46.42" fill="#DE1219">SENAM</text>
<text lengthAdjust="spacingAndGlyphs" x="393.28" y="779" textLength="46.42" fill="#DE1219">SENAM</text>
<text lengthAdjust="spacingAndGlyphs" x="486.83" y="779" textLength="46.42" fill="#DE1219">SENAM</text>
<text lengthAdjust="spacingAndGlyphs" x="580.93" y="779" textLength="46.42" fill="#DE1219">SENAM</text>
<text lengthAdjust="spacingAndGlyphs" x="677.38" y="779" textLength="46.42" fill="#DE1219">SENAM</text>
<text lengthAdjust="spacingAndGlyphs" x="786.28" y="779" textLength="46.42" fill="#DE1219">SENAM</text>
<text lengthAdjust="spacingAndGlyphs" x="195.24" y="798" textLength="73.28">07.30-08.05</text>
<text lengthAdjust="spacingAndGlyphs" x="290.91" y="798" textLength="28.7">MTK</text>
<text lengthAdjust="spacingAndGlyphs" x="343.04" y="798" textLength="14.65">15</text>
<text lengthAdjust="spacingAndGlyphs" x="393.53" y="798" textLength="26.93" stroke="#000" stroke-width="0.11">IPAS</text>
<text lengthAdjust="spacingAndGlyphs" x="442.4" y="798" textLength="15.22">16</text>
<text lengthAdjust="spacingAndGlyphs" x="486.84" y="798" textLength="51.16">AQIDAH</text>
<text lengthAdjust="spacingAndGlyphs" x="531.81" y="798" textLength="15.53">47</text>
<text lengthAdjust="spacingAndGlyphs" x="581.49" y="798" textLength="22.22">FIQ</text>
<text lengthAdjust="spacingAndGlyphs" x="627.57" y="798" textLength="14.92">38</text>
<text lengthAdjust="spacingAndGlyphs" x="677.35" y="798" textLength="28.13" stroke="#000" stroke-width="0.09">SENI</text>
<text lengthAdjust="spacingAndGlyphs" x="729.61" y="798" textLength="15.25">19</text>
<text lengthAdjust="spacingAndGlyphs" x="786.57" y="798" textLength="53.61">P.PANCA</text>
<text lengthAdjust="spacingAndGlyphs" x="842.69" y="798" textLength="15.45">20</text>
<text lengthAdjust="spacingAndGlyphs" x="903.18" y="798" textLength="72.9">12.45-13.15</text>
<text lengthAdjust="spacingAndGlyphs" x="992.85" y="798" textLength="28.13" stroke="#000" stroke-width="0.09">SENI</text>
<text lengthAdjust="spacingAndGlyphs" x="1049.64" y="798" textLength="14.65">15</text>
<text lengthAdjust="spacingAndGlyphs" x="1096.06" y="798" textLength="28.7">MTK</text>
<text lengthAdjust="spacingAndGlyphs" x="1140.5" y="798" textLength="15.22">16</text>
<text lengthAdjust="spacingAndGlyphs" x="1194.39" y="798" textLength="51.16">AQIDAH</text>
<text lengthAdjust="spacingAndGlyphs" x="1248.26" y="798" textLength="15.53">47</text>
<text lengthAdjust="spacingAndGlyphs" x="1300.39" y="798" textLength="22.22">FIQ</text>
<text lengthAdjust="spacingAndGlyphs" x="1350.12" y="798" textLength="14.92">38</text>
<text lengthAdjust="spacingAndGlyphs" x="1399.34" y="798" textLength="30.37" stroke="#000" stroke-width="0.21">PJOK</text>
<text lengthAdjust="spacingAndGlyphs" x="1449.23" y="798" textLength="15.58">40</text>
<text lengthAdjust="spacingAndGlyphs" x="1497.44" y="798" textLength="45.54">B.INGG</text>
<text lengthAdjust="spacingAndGlyphs" x="1544.14" y="798" textLength="14.55">35</text>
<text lengthAdjust="spacingAndGlyphs" x="195.56" y="818" textLength="73.92">08.05-08.40</text>
<text lengthAdjust="spacingAndGlyphs" x="290.91" y="818" textLength="28.7">MTK</text>
<text lengthAdjust="spacingAndGlyphs" x="343.04" y="818" textLength="14.65">15</text>
<text lengthAdjust="spacingAndGlyphs" x="393.53" y="818" textLength="26.93" stroke="#000" stroke-width="0.11">IPAS</text>
<text lengthAdjust="spacingAndGlyphs" x="442.4" y="818" textLength="15.22">16</text>
<text lengthAdjust="spacingAndGlyphs" x="486.84" y="818" textLength="51.16">AQIDAH</text>
<text lengthAdjust="spacingAndGlyphs" x="531.81" y="818" textLength="15.53">47</text>
<text lengthAdjust="spacingAndGlyphs" x="581.49" y="818" textLength="22.22">FIQ</text>
<text lengthAdjust="spacingAndGlyphs" x="627.57" y="818" textLength="14.92">38</text>
<text lengthAdjust="spacingAndGlyphs" x="677.35" y="818" textLength="28.13" stroke="#000" stroke-width="0.09">SENI</text>
<text lengthAdjust="spacingAndGlyphs" x="729.61" y="818" textLength="15.25">19</text>
<text lengthAdjust="spacingAndGlyphs" x="786.57" y="818" textLength="53.61">P.PANCA</text>
<text lengthAdjust="spacingAndGlyphs" x="842.69" y="818" textLength="15.45">20</text>
<text lengthAdjust="spacingAndGlyphs" x="903.18" y="818" textLength="72.9">13.15-13.45</text>
<text lengthAdjust="spacingAndGlyphs" x="992.85" y="818" textLength="28.13" stroke="#000" stroke-width="0.09">SENI</text>
<text lengthAdjust="spacingAndGlyphs" x="1049.64" y="818" textLength="14.65">15</text>
<text lengthAdjust="spacingAndGlyphs" x="1096.06" y="818" textLength="28.7">MTK</text>
<text lengthAdjust="spacingAndGlyphs" x="1140.5" y="818" textLength="15.22">16</text>
<text lengthAdjust="spacingAndGlyphs" x="1194.39" y="818" textLength="51.16">AQIDAH</text>
<text lengthAdjust="spacingAndGlyphs" x="1248.26" y="818" textLength="15.53">47</text>
<text lengthAdjust="spacingAndGlyphs" x="1300.39" y="818" textLength="22.22">FIQ</text>
<text lengthAdjust="spacingAndGlyphs" x="1350.12" y="818" textLength="14.92">38</text>
<text lengthAdjust="spacingAndGlyphs" x="1399.34" y="818" textLength="30.37" stroke="#000" stroke-width="0.21">PJOK</text>
<text lengthAdjust="spacingAndGlyphs" x="1449.23" y="818" textLength="15.58">40</text>
<text lengthAdjust="spacingAndGlyphs" x="1497.44" y="818" textLength="45.54">B.INGG</text>
<text lengthAdjust="spacingAndGlyphs" x="1544.14" y="818" textLength="14.55">35</text>
<text lengthAdjust="spacingAndGlyphs" x="195.24" y="838" textLength="73.28">08.40-09.15</text>
<text lengthAdjust="spacingAndGlyphs" x="290.91" y="839" textLength="28.7">MTK</text>
<text lengthAdjust="spacingAndGlyphs" x="343.04" y="838" textLength="14.65">15</text>
<text lengthAdjust="spacingAndGlyphs" x="393.29" y="839" textLength="51.16">AQIDAH</text>
<text lengthAdjust="spacingAndGlyphs" x="442.31" y="838" textLength="15.53">47</text>
<text lengthAdjust="spacingAndGlyphs" x="487.08" y="838" textLength="26.93" stroke="#000" stroke-width="0.11">IPAS</text>
<text lengthAdjust="spacingAndGlyphs" x="531.92" y="838" textLength="15.28">17</text>
<text lengthAdjust="spacingAndGlyphs" x="581.16" y="838" textLength="28.7">MTK</text>
<text lengthAdjust="spacingAndGlyphs" x="627.52" y="838" textLength="15.03">18</text>
<text lengthAdjust="spacingAndGlyphs" x="677.94" y="838" textLength="22.22">FIQ</text>
<text lengthAdjust="spacingAndGlyphs" x="729.57" y="838" textLength="14.92">38</text>
<text lengthAdjust="spacingAndGlyphs" x="786.57" y="838" textLength="53.61">P.PANCA</text>
<text lengthAdjust="spacingAndGlyphs" x="842.69" y="838" textLength="15.45">20</text>
<text lengthAdjust="spacingAndGlyphs" x="903.18" y="839" textLength="72.9">13.45-14.15</text>
<text lengthAdjust="spacingAndGlyphs" x="993.44" y="838" textLength="22.22">FIQ</text>
<text lengthAdjust="spacingAndGlyphs" x="1049.87" y="838" textLength="14.92">38</text>
<text lengthAdjust="spacingAndGlyphs" x="1095.84" y="838" textLength="51.16">AQIDAH</text>
<text lengthAdjust="spacingAndGlyphs" x="1140.41" y="838" textLength="15.53">47</text>
<text lengthAdjust="spacingAndGlyphs" x="1194.35" y="838" textLength="28.13" stroke="#000" stroke-width="0.09">SENI</text>
<text lengthAdjust="spacingAndGlyphs" x="1248.37" y="838" textLength="15.28">17</text>
<text lengthAdjust="spacingAndGlyphs" x="1300.06" y="838" textLength="46.11">B.INDO</text>
<text lengthAdjust="spacingAndGlyphs" x="1350.07" y="838" textLength="15.03">18</text>
<text lengthAdjust="spacingAndGlyphs" x="1399.34" y="838" textLength="30.37" stroke="#000" stroke-width="0.21">PJOK</text>
<text lengthAdjust="spacingAndGlyphs" x="1449.23" y="838" textLength="15.58">40</text>
<text lengthAdjust="spacingAndGlyphs" x="1497.46" y="838" textLength="46.11">B.INDO</text>
<text lengthAdjust="spacingAndGlyphs" x="1544.34" y="838" textLength="15.45">20</text>
<text lengthAdjust="spacingAndGlyphs" x="195.56" y="859" textLength="73.92">09.15-09.50</text>
<text lengthAdjust="spacingAndGlyphs" x="290.91" y="860" textLength="46.11">B.INDO</text>
<text lengthAdjust="spacingAndGlyphs" x="343.04" y="859" textLength="14.65">15</text>
<text lengthAdjust="spacingAndGlyphs" x="393.29" y="860" textLength="51.16">AQIDAH</text>
<text lengthAdjust="spacingAndGlyphs" x="442.31" y="859" textLength="15.53">47</text>
<text lengthAdjust="spacingAndGlyphs" x="487.08" y="859" textLength="26.93" stroke="#000" stroke-width="0.11">IPAS</text>
<text lengthAdjust="spacingAndGlyphs" x="531.92" y="859" textLength="15.28">17</text>
<text lengthAdjust="spacingAndGlyphs" x="581.16" y="859" textLength="28.7">MTK</text>
<text lengthAdjust="spacingAndGlyphs" x="627.52" y="859" textLength="15.03">18</text>
<text lengthAdjust="spacingAndGlyphs" x="677.94" y="859" textLength="22.22">FIQ</text>
<text lengthAdjust="spacingAndGlyphs" x="729.57" y="859" textLength="14.92">38</text>
<text lengthAdjust="spacingAndGlyphs" x="786.57" y="859" textLength="53.61">P.PANCA</text>
<text lengthAdjust="spacingAndGlyphs" x="842.69" y="859" textLength="15.45">20</text>
<text lengthAdjust="spacingAndGlyphs" x="903.18" y="860" textLength="72.9">14.15-14.55</text>
<text lengthAdjust="spacingAndGlyphs" x="993.44" y="859" textLength="22.22">FIQ</text>
<text lengthAdjust="spacingAndGlyphs" x="1049.87" y="859" textLength="14.92">38</text>
<text lengthAdjust="spacingAndGlyphs" x="1095.84" y="859" textLength="51.16">AQIDAH</text>
<text lengthAdjust="spacingAndGlyphs" x="1140.41" y="859" textLength="15.53">47</text>
<text lengthAdjust="spacingAndGlyphs" x="1194.35" y="859" textLength="28.13" stroke="#000" stroke-width="0.09">SENI</text>
<text lengthAdjust="spacingAndGlyphs" x="1248.37" y="859" textLength="15.28">17</text>
<text lengthAdjust="spacingAndGlyphs" x="1300.06" y="859" textLength="46.11">B.INDO</text>
<text lengthAdjust="spacingAndGlyphs" x="1350.07" y="859" textLength="15.03">18</text>
<text lengthAdjust="spacingAndGlyphs" x="1399.36" y="859" textLength="28.7">MTK</text>
<text lengthAdjust="spacingAndGlyphs" x="1449.31" y="859" textLength="15.25">19</text>
<text lengthAdjust="spacingAndGlyphs" x="1497.46" y="859" textLength="46.11">B.INDO</text>
<text lengthAdjust="spacingAndGlyphs" x="1544.34" y="859" textLength="15.45">20</text>
<text lengthAdjust="spacingAndGlyphs" x="195.24" y="880" textLength="73.28" fill="#DE1219">09.50-10.05</text>
<text lengthAdjust="spacingAndGlyphs" x="290.85" y="881" textLength="51.31" fill="#DE1219">Istirahat</text>
<text lengthAdjust="spacingAndGlyphs" x="393.45" y="881" textLength="51.31" fill="#DE1219">Istirahat</text>
<text lengthAdjust="spacingAndGlyphs" x="487" y="880" textLength="51.31" fill="#DE1219">Istirahat</text>
<text lengthAdjust="spacingAndGlyphs" x="581.1" y="880" textLength="51.31" fill="#DE1219">Istirahat</text>
<text lengthAdjust="spacingAndGlyphs" x="677.55" y="880" textLength="51.31" fill="#DE1219">Istirahat</text>
<text lengthAdjust="spacingAndGlyphs" x="786.45" y="880" textLength="51.31" fill="#DE1219">Istirahat</text>
<text lengthAdjust="spacingAndGlyphs" x="903.49" y="881" textLength="73.54" fill="#DE1219">14.55-15.10</text>
<text lengthAdjust="spacingAndGlyphs" x="993.05" y="880" textLength="51.31" fill="#DE1219">Istirahat</text>
<text lengthAdjust="spacingAndGlyphs" x="1096" y="880" textLength="51.31" fill="#DE1219">Istirahat</text>
<text lengthAdjust="spacingAndGlyphs" x="1194.55" y="880" textLength="51.31" fill="#DE1219">Istirahat</text>
<text lengthAdjust="spacingAndGlyphs" x="1300" y="880" textLength="51.31" fill="#DE1219">Istirahat</text>
<text lengthAdjust="spacingAndGlyphs" x="1399.3" y="880" textLength="51.31" fill="#DE1219">Istirahat</text>
<text lengthAdjust="spacingAndGlyphs" x="1497.4" y="880" textLength="51.31" fill="#DE1219">Istirahat</text>
<text lengthAdjust="spacingAndGlyphs" x="195.74" y="901" textLength="73.54">10.05-10.40</text>
<text lengthAdjust="spacingAndGlyphs" x="290.69" y="902" textLength="51.16">AQIDAH</text>
<text lengthAdjust="spacingAndGlyphs" x="343.21" y="901" textLength="15.53">47</text>
<text lengthAdjust="spacingAndGlyphs" x="393.51" y="902" textLength="46.11">B.INDO</text>
<text lengthAdjust="spacingAndGlyphs" x="442.4" y="901" textLength="15.22">16</text>
<text lengthAdjust="spacingAndGlyphs" x="487.12" y="901" textLength="53.61">P.PANCA</text>
<text lengthAdjust="spacingAndGlyphs" x="531.92" y="901" textLength="15.28">17</text>
<text lengthAdjust="spacingAndGlyphs" x="581.18" y="901" textLength="26.93" stroke="#000" stroke-width="0.11">IPAS</text>
<text lengthAdjust="spacingAndGlyphs" x="627.52" y="901" textLength="15.03">18</text>
<text lengthAdjust="spacingAndGlyphs" x="677.61" y="901" textLength="46.11">B.INDO</text>
<text lengthAdjust="spacingAndGlyphs" x="729.61" y="901" textLength="15.25">19</text>
<text lengthAdjust="spacingAndGlyphs" x="786.84" y="901" textLength="22.22">FIQ</text>
<text lengthAdjust="spacingAndGlyphs" x="842.67" y="901" textLength="14.92">38</text>
<text lengthAdjust="spacingAndGlyphs" x="903.49" y="902" textLength="73.54">15.10-15.40</text>
<text lengthAdjust="spacingAndGlyphs" x="992.89" y="901" textLength="51.16">AQIDAH</text>
<text lengthAdjust="spacingAndGlyphs" x="1049.81" y="901" textLength="15.53">47</text>
<text lengthAdjust="spacingAndGlyphs" x="1095.8" y="901" textLength="28.13" stroke="#000" stroke-width="0.09">SENI</text>
<text lengthAdjust="spacingAndGlyphs" x="1140.5" y="901" textLength="15.22">16</text>
<text lengthAdjust="spacingAndGlyphs" x="1194.61" y="901" textLength="46.11">B.INDO</text>
<text lengthAdjust="spacingAndGlyphs" x="1248.37" y="901" textLength="15.28">17</text>
<text lengthAdjust="spacingAndGlyphs" x="1300.06" y="901" textLength="46.11">B.INDO</text>
<text lengthAdjust="spacingAndGlyphs" x="1350.07" y="901" textLength="15.03">18</text>
<text lengthAdjust="spacingAndGlyphs" x="1399.69" y="901" textLength="22.22">FIQ</text>
<text lengthAdjust="spacingAndGlyphs" x="1449.27" y="901" textLength="14.92">38</text>
<text lengthAdjust="spacingAndGlyphs" x="1497.2" y="901" textLength="28.13" stroke="#000" stroke-width="0.09">SENI</text>
<text lengthAdjust="spacingAndGlyphs" x="1544.34" y="901" textLength="15.45">20</text>
<text lengthAdjust="spacingAndGlyphs" x="195.43" y="923" textLength="72.91">10.40-11.15</text>
<text lengthAdjust="spacingAndGlyphs" x="290.69" y="923" textLength="51.16">AQIDAH</text>
<text lengthAdjust="spacingAndGlyphs" x="343.21" y="923" textLength="15.53">47</text>
<text lengthAdjust="spacingAndGlyphs" x="393.51" y="923" textLength="46.11">B.INDO</text>
<text lengthAdjust="spacingAndGlyphs" x="442.4" y="923" textLength="15.22">16</text>
<text lengthAdjust="spacingAndGlyphs" x="487.12" y="923" textLength="53.61">P.PANCA</text>
<text lengthAdjust="spacingAndGlyphs" x="531.92" y="923" textLength="15.28">17</text>
<text lengthAdjust="spacingAndGlyphs" x="581.18" y="923" textLength="26.93" stroke="#000" stroke-width="0.11">IPAS</text>
<text lengthAdjust="spacingAndGlyphs" x="627.52" y="923" textLength="15.03">18</text>
<text lengthAdjust="spacingAndGlyphs" x="677.61" y="923" textLength="46.11">B.INDO</text>
<text lengthAdjust="spacingAndGlyphs" x="729.61" y="923" textLength="15.25">19</text>
<text lengthAdjust="spacingAndGlyphs" x="786.84" y="923" textLength="22.22">FIQ</text>
<text lengthAdjust="spacingAndGlyphs" x="842.67" y="923" textLength="14.92">38</text>
<text lengthAdjust="spacingAndGlyphs" x="903.49" y="923" textLength="73.54">15.40-16.10</text>
<text lengthAdjust="spacingAndGlyphs" x="992.89" y="923" textLength="51.16">AQIDAH</text>
<text lengthAdjust="spacingAndGlyphs" x="1049.81" y="923" textLength="15.53">47</text>
<text lengthAdjust="spacingAndGlyphs" x="1095.8" y="923" textLength="28.13" stroke="#000" stroke-width="0.09">SENI</text>
<text lengthAdjust="spacingAndGlyphs" x="1140.5" y="923" textLength="15.22">16</text>
<text lengthAdjust="spacingAndGlyphs" x="1194.61" y="923" textLength="46.11">B.INDO</text>
<text lengthAdjust="spacingAndGlyphs" x="1248.37" y="923" textLength="15.28">17</text>
<text lengthAdjust="spacingAndGlyphs" x="1300.06" y="923" textLength="46.11">B.INDO</text>
<text lengthAdjust="spacingAndGlyphs" x="1350.07" y="923" textLength="15.03">18</text>
<text lengthAdjust="spacingAndGlyphs" x="1399.69" y="923" textLength="22.22">FIQ</text>
<text lengthAdjust="spacingAndGlyphs" x="1449.27" y="923" textLength="14.92">38</text>
<text lengthAdjust="spacingAndGlyphs" x="1497.2" y="923" textLength="28.13" stroke="#000" stroke-width="0.09">SENI</text>
<text lengthAdjust="spacingAndGlyphs" x="1544.34" y="923" textLength="15.45">20</text>
<text lengthAdjust="spacingAndGlyphs" x="195.74" y="944" textLength="73.58">11.15-11.50</text>
<text lengthAdjust="spacingAndGlyphs" x="290.65" y="944" textLength="28.13" stroke="#000" stroke-width="0.09">SENI</text>
<text lengthAdjust="spacingAndGlyphs" x="343.04" y="944" textLength="14.65">15</text>
<text lengthAdjust="spacingAndGlyphs" x="393.51" y="944" textLength="46.11">B.INDO</text>
<text lengthAdjust="spacingAndGlyphs" x="442.4" y="944" textLength="15.22">16</text>
<text lengthAdjust="spacingAndGlyphs" x="486.8" y="944" textLength="28.13" stroke="#000" stroke-width="0.09">SENI</text>
<text lengthAdjust="spacingAndGlyphs" x="531.92" y="944" textLength="15.28">17</text>
<text lengthAdjust="spacingAndGlyphs" x="581.18" y="944" textLength="26.93" stroke="#000" stroke-width="0.11">IPAS</text>
<text lengthAdjust="spacingAndGlyphs" x="627.52" y="944" textLength="15.03">18</text>
<text lengthAdjust="spacingAndGlyphs" x="677.61" y="944" textLength="46.11">B.INDO</text>
<text lengthAdjust="spacingAndGlyphs" x="729.61" y="944" textLength="15.25">19</text>
<text lengthAdjust="spacingAndGlyphs" x="786.25" y="944" textLength="28.13" stroke="#000" stroke-width="0.09">SENI</text>
<text lengthAdjust="spacingAndGlyphs" x="842.69" y="944" textLength="15.45">20</text>
<text lengthAdjust="spacingAndGlyphs" x="195.74" y="965" textLength="73.55">11.50-12.20</text>
<text lengthAdjust="spacingAndGlyphs" x="290.97" y="965" textLength="53.61">P.PANCA</text>
<text lengthAdjust="spacingAndGlyphs" x="343.04" y="965" textLength="14.65">15</text>
<text lengthAdjust="spacingAndGlyphs" x="393.51" y="965" textLength="46.11">B.INDO</text>
<text lengthAdjust="spacingAndGlyphs" x="442.4" y="965" textLength="15.22">16</text>
<text lengthAdjust="spacingAndGlyphs" x="486.8" y="965" textLength="28.13" stroke="#000" stroke-width="0.09">SENI</text>
<text lengthAdjust="spacingAndGlyphs" x="531.92" y="965" textLength="15.28">17</text>
<text lengthAdjust="spacingAndGlyphs" x="581.18" y="965" textLength="26.93" stroke="#000" stroke-width="0.11">IPAS</text>
<text lengthAdjust="spacingAndGlyphs" x="627.52" y="965" textLength="15.03">18</text>
<text lengthAdjust="spacingAndGlyphs" x="677.61" y="965" textLength="46.11">B.INDO</text>
<text lengthAdjust="spacingAndGlyphs" x="729.61" y="965" textLength="15.25">19</text>
<text lengthAdjust="spacingAndGlyphs" x="786.25" y="965" textLength="28.13" stroke="#000" stroke-width="0.09">SENI</text>
<text lengthAdjust="spacingAndGlyphs" x="842.69" y="965" textLength="15.45">20</text>
<text lengthAdjust="spacingAndGlyphs" x="195.74" y="986" textLength="73.54" fill="#DE1219">12.20-12.40</text>
<text lengthAdjust="spacingAndGlyphs" x="290.72" y="986" textLength="39.38" fill="#DE1219">Sholat</text>
<text lengthAdjust="spacingAndGlyphs" x="393.32" y="986" textLength="39.38" fill="#DE1219">Sholat</text>
<text lengthAdjust="spacingAndGlyphs" x="486.87" y="986" textLength="39.38" fill="#DE1219">Sholat</text>
<text lengthAdjust="spacingAndGlyphs" x="580.97" y="986" textLength="39.38" fill="#DE1219">Sholat</text>
<text lengthAdjust="spacingAndGlyphs" x="677.42" y="986" textLength="39.38" fill="#DE1219">Sholat</text>
<text lengthAdjust="spacingAndGlyphs" x="786.32" y="986" textLength="39.38" fill="#DE1219">Sholat</text>
<text lengthAdjust="spacingAndGlyphs" x="195.67" y="1007" textLength="85.85" fill="#DE1219">Berkaloborasi</text>
<text lengthAdjust="spacingAndGlyphs" x="290.92" y="1007" textLength="26.73" fill="#DE1219" stroke="#DE1219" stroke-width="0.30">PJBL</text>
<text lengthAdjust="spacingAndGlyphs" x="393.52" y="1007" textLength="26.73" fill="#DE1219" stroke="#DE1219" stroke-width="0.30">PJBL</text>
<text lengthAdjust="spacingAndGlyphs" x="487.07" y="1007" textLength="26.73" fill="#DE1219" stroke="#DE1219" stroke-width="0.30">PJBL</text>
<text lengthAdjust="spacingAndGlyphs" x="581.17" y="1007" textLength="26.73" fill="#DE1219" stroke="#DE1219" stroke-width="0.30">PJBL</text>
<text lengthAdjust="spacingAndGlyphs" x="677.62" y="1007" textLength="26.73" fill="#DE1219" stroke="#DE1219" stroke-width="0.30">PJBL</text>
<text lengthAdjust="spacingAndGlyphs" x="786.52" y="1007" textLength="26.73" fill="#DE1219" stroke="#DE1219" stroke-width="0.30">PJBL</text>
<text font-size="14" transform="translate(121.4 888) rotate(-90) scale(0.8968 1)">KAMIS</text>
<text lengthAdjust="spacingAndGlyphs" x="195.56" y="1028" textLength="73.92" fill="#DE1219">07.00-07.30</text>
<text lengthAdjust="spacingAndGlyphs" x="290.62" y="1028" textLength="55.84" fill="#DE1219">YASINAN</text>
<text lengthAdjust="spacingAndGlyphs" x="393.22" y="1028" textLength="55.84" fill="#DE1219">YASINAN</text>
<text lengthAdjust="spacingAndGlyphs" x="486.77" y="1028" textLength="55.84" fill="#DE1219">YASINAN</text>
<text lengthAdjust="spacingAndGlyphs" x="580.87" y="1028" textLength="55.84" fill="#DE1219">YASINAN</text>
<text lengthAdjust="spacingAndGlyphs" x="677.32" y="1028" textLength="55.84" fill="#DE1219">YASINAN</text>
<text lengthAdjust="spacingAndGlyphs" x="786.22" y="1028" textLength="55.84" fill="#DE1219">YASINAN</text>
<text lengthAdjust="spacingAndGlyphs" x="902.99" y="1028" textLength="73.28">09.35-10.05</text>
<text lengthAdjust="spacingAndGlyphs" x="993.17" y="1028" textLength="53.61">P.PANCA</text>
<text lengthAdjust="spacingAndGlyphs" x="1049.64" y="1028" textLength="14.65">15</text>
<text lengthAdjust="spacingAndGlyphs" x="1096.04" y="1028" textLength="30.37" stroke="#000" stroke-width="0.21">PJOK</text>
<text lengthAdjust="spacingAndGlyphs" x="1140.43" y="1028" textLength="15.58">40</text>
<text lengthAdjust="spacingAndGlyphs" x="1194.63" y="1028" textLength="26.93" stroke="#000" stroke-width="0.11">IPAS</text>
<text lengthAdjust="spacingAndGlyphs" x="1248.37" y="1028" textLength="15.28">17</text>
<text lengthAdjust="spacingAndGlyphs" x="1300.04" y="1028" textLength="45.54">B.INGG</text>
<text lengthAdjust="spacingAndGlyphs" x="1349.94" y="1028" textLength="14.55">35</text>
<text lengthAdjust="spacingAndGlyphs" x="1399.42" y="1028" textLength="53.61">P.PANCA</text>
<text lengthAdjust="spacingAndGlyphs" x="1449.31" y="1028" textLength="15.25">19</text>
<text lengthAdjust="spacingAndGlyphs" x="1497.41" y="1028" textLength="47.55" stroke="#000" stroke-width="0.06">B.ARAB</text>
<text lengthAdjust="spacingAndGlyphs" x="1544.46" y="1028" textLength="15.21">30</text>
<text lengthAdjust="spacingAndGlyphs" x="195.56" y="1048" textLength="73.92">07.30-08.00</text>
<text lengthAdjust="spacingAndGlyphs" x="290.65" y="1048" textLength="28.13" stroke="#000" stroke-width="0.09">SENI</text>
<text lengthAdjust="spacingAndGlyphs" x="343.04" y="1048" textLength="14.65">15</text>
<text lengthAdjust="spacingAndGlyphs" x="393.53" y="1048" textLength="26.93" stroke="#000" stroke-width="0.11">IPAS</text>
<text lengthAdjust="spacingAndGlyphs" x="442.4" y="1048" textLength="15.22">16</text>
<text lengthAdjust="spacingAndGlyphs" x="487.08" y="1048" textLength="26.93" stroke="#000" stroke-width="0.11">IPAS</text>
<text lengthAdjust="spacingAndGlyphs" x="531.92" y="1048" textLength="15.28">17</text>
<text lengthAdjust="spacingAndGlyphs" x="581.18" y="1048" textLength="26.93" stroke="#000" stroke-width="0.11">IPAS</text>
<text lengthAdjust="spacingAndGlyphs" x="627.52" y="1048" textLength="15.03">18</text>
<text lengthAdjust="spacingAndGlyphs" x="677.63" y="1048" textLength="26.93" stroke="#000" stroke-width="0.11">IPAS</text>
<text lengthAdjust="spacingAndGlyphs" x="729.61" y="1048" textLength="15.25">19</text>
<text lengthAdjust="spacingAndGlyphs" x="786.49" y="1048" textLength="45.54">B.INGG</text>
<text lengthAdjust="spacingAndGlyphs" x="842.49" y="1048" textLength="14.55">35</text>
<text lengthAdjust="spacingAndGlyphs" x="903.18" y="1048" textLength="72.9">10.05-10.35</text>
<text lengthAdjust="spacingAndGlyphs" x="993.17" y="1048" textLength="53.61">P.PANCA</text>
<text lengthAdjust="spacingAndGlyphs" x="1049.64" y="1048" textLength="14.65">15</text>
<text lengthAdjust="spacingAndGlyphs" x="1096.04" y="1048" textLength="30.37" stroke="#000" stroke-width="0.21">PJOK</text>
<text lengthAdjust="spacingAndGlyphs" x="1140.43" y="1048" textLength="15.58">40</text>
<text lengthAdjust="spacingAndGlyphs" x="1194.63" y="1048" textLength="26.93" stroke="#000" stroke-width="0.11">IPAS</text>
<text lengthAdjust="spacingAndGlyphs" x="1248.37" y="1048" textLength="15.28">17</text>
<text lengthAdjust="spacingAndGlyphs" x="1300.04" y="1048" textLength="45.54">B.INGG</text>
<text lengthAdjust="spacingAndGlyphs" x="1349.94" y="1048" textLength="14.55">35</text>
<text lengthAdjust="spacingAndGlyphs" x="1399.42" y="1048" textLength="53.61">P.PANCA</text>
<text lengthAdjust="spacingAndGlyphs" x="1449.31" y="1048" textLength="15.25">19</text>
<text lengthAdjust="spacingAndGlyphs" x="1497.41" y="1048" textLength="47.55" stroke="#000" stroke-width="0.06">B.ARAB</text>
<text lengthAdjust="spacingAndGlyphs" x="1544.46" y="1048" textLength="15.21">30</text>
<text lengthAdjust="spacingAndGlyphs" x="195.56" y="1068" textLength="73.92">08.00-08.30</text>
<text lengthAdjust="spacingAndGlyphs" x="290.65" y="1068" textLength="28.13" stroke="#000" stroke-width="0.09">SENI</text>
<text lengthAdjust="spacingAndGlyphs" x="343.04" y="1068" textLength="14.65">15</text>
<text lengthAdjust="spacingAndGlyphs" x="393.53" y="1068" textLength="26.93" stroke="#000" stroke-width="0.11">IPAS</text>
<text lengthAdjust="spacingAndGlyphs" x="442.4" y="1068" textLength="15.22">16</text>
<text lengthAdjust="spacingAndGlyphs" x="487.08" y="1068" textLength="26.93" stroke="#000" stroke-width="0.11">IPAS</text>
<text lengthAdjust="spacingAndGlyphs" x="531.92" y="1068" textLength="15.28">17</text>
<text lengthAdjust="spacingAndGlyphs" x="580.9" y="1068" textLength="28.13" stroke="#000" stroke-width="0.09">SENI</text>
<text lengthAdjust="spacingAndGlyphs" x="627.52" y="1068" textLength="15.03">18</text>
<text lengthAdjust="spacingAndGlyphs" x="677.63" y="1068" textLength="26.93" stroke="#000" stroke-width="0.11">IPAS</text>
<text lengthAdjust="spacingAndGlyphs" x="729.61" y="1068" textLength="15.25">19</text>
<text lengthAdjust="spacingAndGlyphs" x="786.49" y="1068" textLength="45.54">B.INGG</text>
<text lengthAdjust="spacingAndGlyphs" x="842.49" y="1068" textLength="14.55">35</text>
<text lengthAdjust="spacingAndGlyphs" x="903.18" y="1068" textLength="72.91">10.35-11.05</text>
<text lengthAdjust="spacingAndGlyphs" x="993.11" y="1068" textLength="46.11">B.INDO</text>
<text lengthAdjust="spacingAndGlyphs" x="1049.64" y="1068" textLength="14.65">15</text>
<text lengthAdjust="spacingAndGlyphs" x="1096.04" y="1068" textLength="30.37" stroke="#000" stroke-width="0.21">PJOK</text>
<text lengthAdjust="spacingAndGlyphs" x="1140.43" y="1068" textLength="15.58">40</text>
<text lengthAdjust="spacingAndGlyphs" x="1194.55" y="1068" textLength="60.24">QUR HAD</text>
<text lengthAdjust="spacingAndGlyphs" x="1248.24" y="1068" textLength="14.75">31</text>
<text lengthAdjust="spacingAndGlyphs" x="1299.8" y="1068" textLength="28.13" stroke="#000" stroke-width="0.09">SENI</text>
<text lengthAdjust="spacingAndGlyphs" x="1350.07" y="1068" textLength="15.03">18</text>
<text lengthAdjust="spacingAndGlyphs" x="1399.34" y="1068" textLength="45.54">B.INGG</text>
<text lengthAdjust="spacingAndGlyphs" x="1449.31" y="1068" textLength="15.25">19</text>
<text lengthAdjust="spacingAndGlyphs" x="1497.46" y="1068" textLength="46.11">B.INDO</text>
<text lengthAdjust="spacingAndGlyphs" x="1544.34" y="1068" textLength="15.45">20</text>
<text lengthAdjust="spacingAndGlyphs" x="195.56" y="1087" textLength="73.92">08.30-09.00</text>
<text lengthAdjust="spacingAndGlyphs" x="290.89" y="1087" textLength="45.54">B.INGG</text>
<text lengthAdjust="spacingAndGlyphs" x="343.09" y="1087" textLength="14.55">35</text>
<text lengthAdjust="spacingAndGlyphs" x="393.53" y="1087" textLength="26.93" stroke="#000" stroke-width="0.11">IPAS</text>
<text lengthAdjust="spacingAndGlyphs" x="442.4" y="1087" textLength="15.22">16</text>
<text lengthAdjust="spacingAndGlyphs" x="487.08" y="1087" textLength="26.93" stroke="#000" stroke-width="0.11">IPAS</text>
<text lengthAdjust="spacingAndGlyphs" x="531.92" y="1087" textLength="15.28">17</text>
<text lengthAdjust="spacingAndGlyphs" x="580.9" y="1087" textLength="28.13" stroke="#000" stroke-width="0.09">SENI</text>
<text lengthAdjust="spacingAndGlyphs" x="627.52" y="1087" textLength="15.03">18</text>
<text lengthAdjust="spacingAndGlyphs" x="677.61" y="1087" textLength="46.11">B.INDO</text>
<text lengthAdjust="spacingAndGlyphs" x="729.61" y="1087" textLength="15.25">19</text>
<text lengthAdjust="spacingAndGlyphs" x="786.51" y="1087" textLength="46.11">B.INDO</text>
<text lengthAdjust="spacingAndGlyphs" x="842.69" y="1087" textLength="15.45">20</text>
<text lengthAdjust="spacingAndGlyphs" x="903.18" y="1087" textLength="72.93">11.05-11.35</text>
<text lengthAdjust="spacingAndGlyphs" x="993.11" y="1087" textLength="46.11">B.INDO</text>
<text lengthAdjust="spacingAndGlyphs" x="1049.64" y="1087" textLength="14.65">15</text>
<text lengthAdjust="spacingAndGlyphs" x="1096.06" y="1087" textLength="46.11">B.INDO</text>
<text lengthAdjust="spacingAndGlyphs" x="1140.5" y="1087" textLength="15.22">16</text>
<text lengthAdjust="spacingAndGlyphs" x="1194.55" y="1087" textLength="60.24">QUR HAD</text>
<text lengthAdjust="spacingAndGlyphs" x="1248.24" y="1087" textLength="14.75">31</text>
<text lengthAdjust="spacingAndGlyphs" x="1299.8" y="1087" textLength="28.13" stroke="#000" stroke-width="0.09">SENI</text>
<text lengthAdjust="spacingAndGlyphs" x="1350.07" y="1087" textLength="15.03">18</text>
<text lengthAdjust="spacingAndGlyphs" x="1399.34" y="1087" textLength="45.54">B.INGG</text>
<text lengthAdjust="spacingAndGlyphs" x="1449.31" y="1087" textLength="15.25">19</text>
<text lengthAdjust="spacingAndGlyphs" x="1497.46" y="1087" textLength="46.11">B.INDO</text>
<text lengthAdjust="spacingAndGlyphs" x="1544.34" y="1087" textLength="15.45">20</text>
<text lengthAdjust="spacingAndGlyphs" x="195.56" y="1107" textLength="73.92">09.00-09.30</text>
<text lengthAdjust="spacingAndGlyphs" x="290.89" y="1107" textLength="45.54">B.INGG</text>
<text lengthAdjust="spacingAndGlyphs" x="343.09" y="1107" textLength="14.55">35</text>
<text lengthAdjust="spacingAndGlyphs" x="393.25" y="1107" textLength="28.13" stroke="#000" stroke-width="0.09">SENI</text>
<text lengthAdjust="spacingAndGlyphs" x="442.4" y="1107" textLength="15.22">16</text>
<text lengthAdjust="spacingAndGlyphs" x="486.8" y="1107" textLength="28.13" stroke="#000" stroke-width="0.09">SENI</text>
<text lengthAdjust="spacingAndGlyphs" x="531.92" y="1107" textLength="15.28">17</text>
<text lengthAdjust="spacingAndGlyphs" x="580.9" y="1107" textLength="28.13" stroke="#000" stroke-width="0.09">SENI</text>
<text lengthAdjust="spacingAndGlyphs" x="627.52" y="1107" textLength="15.03">18</text>
<text lengthAdjust="spacingAndGlyphs" x="677.61" y="1107" textLength="46.11">B.INDO</text>
<text lengthAdjust="spacingAndGlyphs" x="729.61" y="1107" textLength="15.25">19</text>
<text lengthAdjust="spacingAndGlyphs" x="786.25" y="1107" textLength="28.13" stroke="#000" stroke-width="0.09">SENI</text>
<text lengthAdjust="spacingAndGlyphs" x="842.69" y="1107" textLength="15.45">20</text>
<text font-size="14" transform="translate(121.4 1071.5) rotate(-90) scale(0.8930 1)">JUMAT</text>
<text lengthAdjust="spacingAndGlyphs" x="905.9" y="68" textLength="465.37">DAFTAR PELAJARAN KELAS 4.1-4.6 &#160;SESI PAGI DAN SIANG MIN KOTA JAMBI</text>
<text lengthAdjust="spacingAndGlyphs" x="498.35" y="88" textLength="192.02">TAHUN PELAJARAN 2025/2026</text>
<text lengthAdjust="spacingAndGlyphs" x="1240.75" y="88" textLength="192.02">TAHUN PELAJARAN 2025/2026</text>
<text lengthAdjust="spacingAndGlyphs" x="393.17" y="108" textLength="38.08" stroke="#000" stroke-width="0.20">KELAS</text>
<text lengthAdjust="spacingAndGlyphs" x="1133.27" y="108" textLength="38.08" stroke="#000" stroke-width="0.20">KELAS</text>
<text lengthAdjust="spacingAndGlyphs" x="290.16" y="128" textLength="19.14">4.1</text>
<text lengthAdjust="spacingAndGlyphs" x="992.36" y="128" textLength="19.14">4.1</text>
<text lengthAdjust="spacingAndGlyphs" x="392.87" y="128" textLength="19.35">4.2</text>
<text lengthAdjust="spacingAndGlyphs" x="1095.42" y="128" textLength="19.35">4.2</text>
<text lengthAdjust="spacingAndGlyphs" x="486.43" y="128" textLength="19.39">4.3</text>
<text lengthAdjust="spacingAndGlyphs" x="1193.98" y="128" textLength="19.39">4.3</text>
<text lengthAdjust="spacingAndGlyphs" x="580.42" y="128" textLength="19.16">4.4</text>
<text lengthAdjust="spacingAndGlyphs" x="1299.32" y="128" textLength="19.16">4.4</text>
<text lengthAdjust="spacingAndGlyphs" x="676.76" y="128" textLength="18.93">4.5</text>
<text lengthAdjust="spacingAndGlyphs" x="1398.51" y="128" textLength="18.93">4.5</text>
<text lengthAdjust="spacingAndGlyphs" x="785.93" y="128" textLength="19.48">4.6</text>
<text lengthAdjust="spacingAndGlyphs" x="1496.88" y="128" textLength="19.48">4.6</text>
<text font-size="14" transform="translate(111.4 112.45) rotate(90) scale(0.8831 1)">HARI</text>
<text font-size="14" transform="translate(189.65 112.45) rotate(90) scale(0.8852 1)">JAM</text>
<text lengthAdjust="spacingAndGlyphs" x="1560.45" y="88" textLength="66.11" text-anchor="start">Kode Guru</text>
</g>
<g font-family="'Liberation Serif','Times New Roman',serif" font-size="13.9" fill="#000" lengthAdjust="spacingAndGlyphs">
<text lengthAdjust="spacingAndGlyphs" x="1560.6" y="108" textLength="130.13">1.Tuti Amsinar,S.Pd.I</text>
<text lengthAdjust="spacingAndGlyphs" x="1560.6" y="128" textLength="114.16">2.Sri Maryati,S.Ag</text>
<text lengthAdjust="spacingAndGlyphs" x="1560.6" y="148" textLength="91.11">3.Asnelly,S.Ag</text>
<text lengthAdjust="spacingAndGlyphs" x="1560.6" y="168" textLength="99.16">4.Hadijah,S.Pd.I</text>
<text lengthAdjust="spacingAndGlyphs" x="1560.6" y="188" textLength="85.41">5.Hanuni,S.ag</text>
<text lengthAdjust="spacingAndGlyphs" x="1560.6" y="207" textLength="141.06">6.Zainidar,S.Ag.M.Pd.I</text>
<text lengthAdjust="spacingAndGlyphs" x="1560.6" y="227" textLength="100.84">7.Fatimah,S.Pd.I</text>
<text lengthAdjust="spacingAndGlyphs" x="1560.6" y="247" textLength="137.52">8.Chamim,S.Ag.M.Pd.</text>
<text lengthAdjust="spacingAndGlyphs" x="1560.6" y="266" textLength="110.84">9.Mualimin,S.Pd.I</text>
<text lengthAdjust="spacingAndGlyphs" x="1560.6" y="286" textLength="101.26">10.Husniati,S.Pd</text>
<text lengthAdjust="spacingAndGlyphs" x="1560.6" y="306" textLength="96.5">11.Dra.Hj.Atika</text>
<text lengthAdjust="spacingAndGlyphs" x="1560.6" y="325" textLength="133.63">12.Iswanto,S.Sy.M.Pd</text>
<text lengthAdjust="spacingAndGlyphs" x="1560.6" y="345" textLength="197.09">13.Hj.Yuni Nurmaninghsih,S.Ag</text>
<text lengthAdjust="spacingAndGlyphs" x="1560.6" y="365" textLength="204.1">14.Yosi 14.Yosi Novita Putri,S.Pd</text>
<text lengthAdjust="spacingAndGlyphs" x="1560.6" y="385" textLength="159.99">15.Asria Hairunnisa,S.Spd</text>
<text lengthAdjust="spacingAndGlyphs" x="1560.6" y="405" textLength="184.59">16.Desi Andriani,S.PdI M.Pd.I</text>
<text lengthAdjust="spacingAndGlyphs" x="1560.6" y="424" textLength="141.25">17.Gusti Rahayu,S.Pd.I</text>
<text lengthAdjust="spacingAndGlyphs" x="1560.6" y="444" textLength="125.42">18.Jaleha Yanti,S.Ag</text>
<text lengthAdjust="spacingAndGlyphs" x="1560.6" y="464" textLength="106.46">19.Tohiroh,S.Pd.I</text>
<text lengthAdjust="spacingAndGlyphs" x="1560.6" y="483" textLength="119.6">20.Hj.Sopiah,S.Pd.I</text>
<text lengthAdjust="spacingAndGlyphs" x="1560.6" y="503" textLength="115.83">21.Aspahani,S.Pd.I</text>
<text lengthAdjust="spacingAndGlyphs" x="1560.6" y="522" textLength="134.17">22.Deni Suryanti,S.Pd</text>
<text lengthAdjust="spacingAndGlyphs" x="1560.6" y="542" textLength="122.09">23.Ulfi Yamna,S.Ag</text>
<text lengthAdjust="spacingAndGlyphs" x="1560.6" y="562" textLength="88.34">24.Mira,S.Pd.I</text>
<text lengthAdjust="spacingAndGlyphs" x="1560.6" y="582" textLength="111.67">25.Sri Hayati,SPd.</text>
<text lengthAdjust="spacingAndGlyphs" x="1560.6" y="602" textLength="188.73">26.Muhammad Ramadhani,Ssy</text>
<text lengthAdjust="spacingAndGlyphs" x="1560.6" y="622" textLength="106.24">27.Siti Nurhanah.</text>
<text lengthAdjust="spacingAndGlyphs" x="1560.6" y="641" textLength="126.94">28.Erni Yusnita,S.Ag</text>
<text lengthAdjust="spacingAndGlyphs" x="1560.6" y="661" textLength="161.95">29.Nofrianty,S.Pd.I.M.Pd.I</text>
<text lengthAdjust="spacingAndGlyphs" x="1560.6" y="681" textLength="98.75">30.Drs.H.Muhid</text>
<text lengthAdjust="spacingAndGlyphs" x="1560.6" y="700" textLength="143.77">31.M.Idrus,S.Pd.I.M.Pd</text>
<text lengthAdjust="spacingAndGlyphs" x="1560.6" y="720" textLength="147.5">32.Asia Hairunnisa,S.Pd</text>
<text lengthAdjust="spacingAndGlyphs" x="1560.6" y="740" textLength="133.75">33.Amul Huzni,S.Pd.I</text>
<text lengthAdjust="spacingAndGlyphs" x="1560.6" y="759" textLength="126.25">34.Siti Hafsah,S.Pd.I</text>
<text lengthAdjust="spacingAndGlyphs" x="1560.6" y="779" textLength="149.61">35.Susilawati,S.Pd,M.Pd</text>
<text lengthAdjust="spacingAndGlyphs" x="1560.6" y="798" textLength="116.24">36.Rismalena,S.Ag</text>
<text lengthAdjust="spacingAndGlyphs" x="1560.6" y="818" textLength="110.01">37.Suparlin,S.Pd.I</text>
<text lengthAdjust="spacingAndGlyphs" x="1560.6" y="838" textLength="233.34">38.Neti Sukasih Hasibuan,S.Pd.I.M.Pd</text>
<text lengthAdjust="spacingAndGlyphs" x="1560.6" y="859" textLength="123.32">39.Hayatullah,S.pd.i</text>
<text lengthAdjust="spacingAndGlyphs" x="1560.6" y="880" textLength="168.1">40.Tajang Ferdiansyah,S.Pd</text>
<text lengthAdjust="spacingAndGlyphs" x="1560.6" y="901" textLength="145.84">41.Dessy Sussanna,S.Hi</text>
<text lengthAdjust="spacingAndGlyphs" x="1560.6" y="923" textLength="119.58">42.Erika Sari,S.Pd.I</text>
<text lengthAdjust="spacingAndGlyphs" x="1560.6" y="944" textLength="175.42">43.Husnul Mubarokah,S.Pd.I</text>
<text lengthAdjust="spacingAndGlyphs" x="1560.6" y="965" textLength="171.87">44.Sigit Setia Wahyusi,S.Pd.</text>
</g>
<g font-family="'Liberation Sans',Arial,sans-serif" font-size="12.9" fill="#000" lengthAdjust="spacingAndGlyphs">
<text lengthAdjust="spacingAndGlyphs" x="1560.57" y="986" textLength="126.68">45.Anita Lisma,S.Pd.I</text>
<text lengthAdjust="spacingAndGlyphs" x="1560.56" y="1007" textLength="84.83">46.Dr.Suyanto</text>
<text lengthAdjust="spacingAndGlyphs" x="1560.57" y="1028" textLength="93.36">47.Safiah,S.Pd.I</text>
</g>
<g font-family="'Liberation Sans',Arial,sans-serif">

<g id="stamp" style="filter:blur(0.45px)">
<g transform="translate(1658.6 1091.4) rotate(5)" fill="none" stroke="#33528A">
<ellipse rx="52.2" ry="39.8" stroke-width="1.4"/>
<ellipse rx="50.6" ry="38.3" stroke-width="0.9"/>
<ellipse cx="0.4" cy="1.4" rx="39" ry="30.5" stroke-width="1.8"/>
<path id="arcT" d="M-39.9 -8.4 A41.5 30.4 0 0 1 39.9 -8.4" stroke="none"/>
<path id="arcB" d="M-39.1 22.45 A48.3 38.2 0 0 0 39.1 22.45" stroke="none"/>
<path id="arcM" d="M-29.9 -1.4 A30 19.8 0 0 0 15.9 16.8" stroke="none"/>
<text font-size="10.3" font-weight="bold" fill="#33528A" stroke="#33528A" stroke-width="0.7" textLength="95" lengthAdjust="spacingAndGlyphs"><textPath href="#arcT" textLength="95" lengthAdjust="spacingAndGlyphs">KEMENTERIAN AGAMA</textPath></text>
<text font-size="8.8" font-weight="bold" fill="#33528A" stroke="#33528A" stroke-width="0.6" textLength="85" lengthAdjust="spacingAndGlyphs"><textPath href="#arcB" textLength="85" lengthAdjust="spacingAndGlyphs">REPUBLIK INDONESIA</textPath></text>
<text font-size="4.3" font-weight="bold" fill="#33528A" stroke="#33528A" stroke-width="0.35" textLength="56" lengthAdjust="spacingAndGlyphs"><textPath href="#arcM" textLength="56" lengthAdjust="spacingAndGlyphs">MADRASAH IBTIDAIYAH NEGERI</textPath></text>
<text font-size="7.6" font-weight="bold" fill="#33528A" stroke="#33528A" stroke-width="0.5" text-anchor="middle" x="-0.7" y="26.8" textLength="45.5" lengthAdjust="spacingAndGlyphs">KOTA JAMBI</text>
<text font-size="5.5" fill="#33528A" stroke="none" text-anchor="middle" x="-44.4" y="3.4">&#9733;</text>
<text font-size="5.5" fill="#33528A" stroke="none" text-anchor="middle" x="43.8" y="4.4">&#9733;</text>
</g>
<g fill="none" stroke="#33528A" stroke-linejoin="miter">
<path d="M1663.5 1067.6 L1684.4 1083 L1670.6 1105 L1643.4 1100.4 L1638 1079.6 Z" stroke-width="3"/>
<path d="M1666 1076.5 A11.5 11.5 0 0 1 1669.5 1098.5" stroke-width="2.6"/>
<path d="M1654 1077 A11.5 11.5 0 0 0 1649 1093" stroke-width="2.2" stroke-dasharray="1.4 0.6"/>
<circle cx="1660" cy="1087" r="5.2" stroke-width="2.4" stroke-dasharray="1.8 0.7"/>
<path d="M1648 1094.5 C1655 1098 1664 1098 1671 1096" stroke-width="1.8" stroke-dasharray="1.6 0.6"/>
</g>
<circle cx="1660" cy="1087" r="2" fill="#33528A"/>
<text font-size="5" fill="#33528A" text-anchor="middle" x="1661.5" y="1076">&#9733;</text>
<g font-family="'Liberation Serif',serif" font-size="10.2" fill="#484848" font-weight="normal">
<text lengthAdjust="spacingAndGlyphs" x="1680.6" y="1066.6">Kepala</text>
<text lengthAdjust="spacingAndGlyphs" x="1679.8" y="1110.2">Suyanto</text>
</g>
<path d="M1670.6 1104.8 C1682 1099.5 1700 1095 1721.8 1091.2" stroke="#2a2a2a" stroke-width="0.9" fill="none"/>
<path d="M1690 1090.3 L1697.2 1078.2 L1695.6 1088.2 L1702.2 1078.4 L1699.8 1087.6 L1703.2 1084.5" stroke="#1c1c1c" stroke-width="1.3" fill="none" stroke-linejoin="round"/>
<path d="M1719.5 1051.6 h4.8" stroke="#333" stroke-width="1"/>
</g>

</g>
</svg>
</body></html>
